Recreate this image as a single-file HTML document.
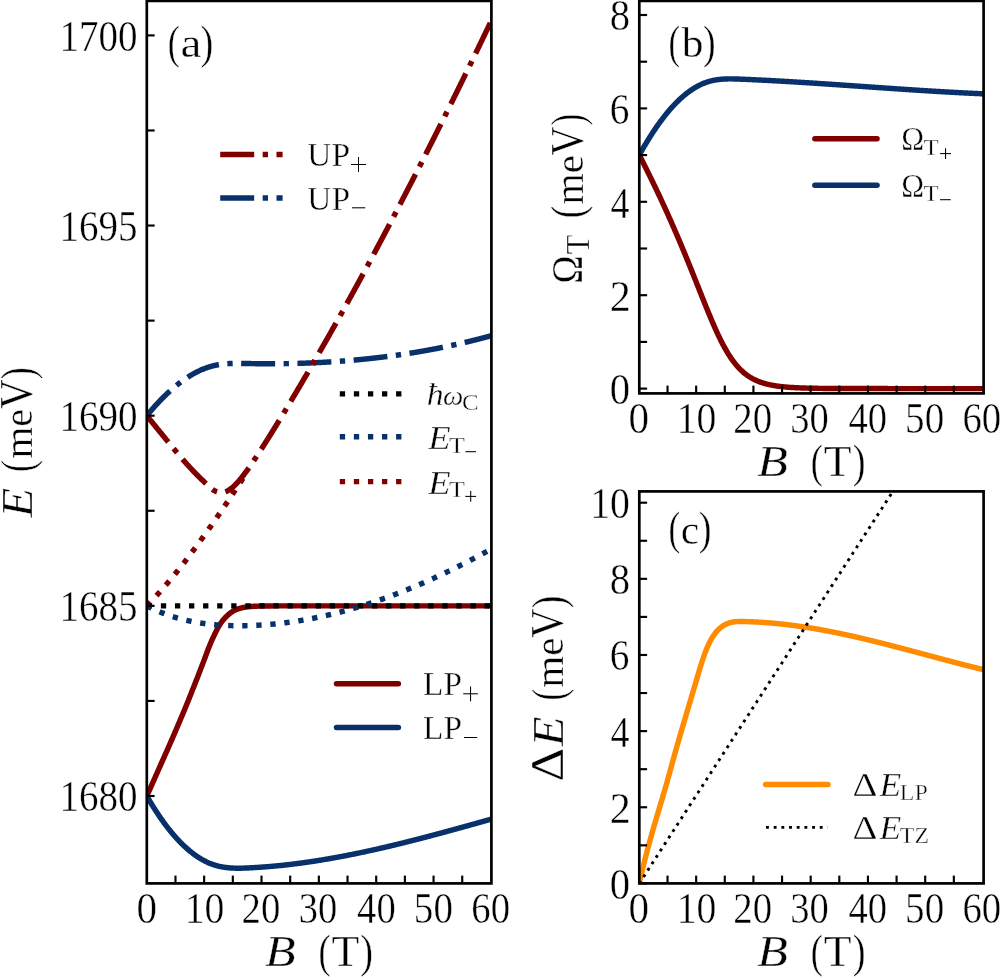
<!DOCTYPE html>
<html><head><meta charset="utf-8"><title>Figure</title>
<style>html,body{margin:0;padding:0;background:#fff;}svg{display:block;}text{font-family:"Liberation Serif",serif;fill:#000;}</style></head>
<body>
<svg width="1000" height="977" viewBox="0 0 1000 977">
<rect x="0" y="0" width="1000" height="977" fill="#fff"/>
<defs>
<clipPath id="ca"><rect x="146.80" y="0.90" width="344.60" height="882.50"/></clipPath>
<clipPath id="cb"><rect x="639.30" y="0.90" width="344.30" height="392.50"/></clipPath>
<clipPath id="cc"><rect x="639.30" y="491.40" width="344.30" height="392.00"/></clipPath>
</defs>
<g clip-path="url(#ca)">
<path d="M146.80 605.85 L147.37 605.27 L147.95 604.68 L148.52 604.09 L149.10 603.50 L149.67 602.91 L150.25 602.31 L150.82 601.71 L151.39 601.10 L151.97 600.50 L152.54 599.89 L153.12 599.28 L153.69 598.66 L154.27 598.05 L154.84 597.43 L155.41 596.81 L155.99 596.18 L156.56 595.55 L157.14 594.92 L157.71 594.29 L158.29 593.65 L158.86 593.02 L159.43 592.38 L160.01 591.73 L160.58 591.09 L161.16 590.44 L161.73 589.79 L162.31 589.13 L162.88 588.48 L163.45 587.82 L164.03 587.16 L164.60 586.49 L165.18 585.83 L165.75 585.16 L166.33 584.49 L166.90 583.82 L167.47 583.14 L168.05 582.46 L168.62 581.78 L169.20 581.10 L169.77 580.41 L170.35 579.73 L170.92 579.04 L171.49 578.34 L172.07 577.65 L172.64 576.95 L173.22 576.25 L173.79 575.55 L174.37 574.85 L174.94 574.14 L175.52 573.43 L176.09 572.72 L176.66 572.01 L177.24 571.30 L177.81 570.58 L178.39 569.86 L178.96 569.14 L179.54 568.41 L180.11 567.69 L180.68 566.96 L181.26 566.23 L181.83 565.50 L182.41 564.77 L182.98 564.03 L183.56 563.29 L184.13 562.55 L184.70 561.81 L185.28 561.07 L185.85 560.32 L186.43 559.57 L187.00 558.82 L187.58 558.07 L188.15 557.32 L188.72 556.56 L189.30 555.81 L189.87 555.05 L190.45 554.29 L191.02 553.52 L191.60 552.76 L192.17 551.99 L192.74 551.22 L193.32 550.45 L193.89 549.68 L194.47 548.91 L195.04 548.13 L195.62 547.35 L196.19 546.57 L196.76 545.79 L197.34 545.01 L197.91 544.23 L198.49 543.44 L199.06 542.65 L199.64 541.86 L200.21 541.07 L200.78 540.28 L201.36 539.49 L201.93 538.69 L202.51 537.89 L203.08 537.10 L203.66 536.30 L204.23 535.49 L204.80 534.69 L205.38 533.88 L205.95 533.08 L206.53 532.27 L207.10 531.46 L207.68 530.65 L208.25 529.84 L208.82 529.02 L209.40 528.21 L209.97 527.39 L210.55 526.57 L211.12 525.75 L211.70 524.93 L212.27 524.11 L212.84 523.28 L213.42 522.46 L213.99 521.63 L214.57 520.80 L215.14 519.97 L215.72 519.14 L216.29 518.31 L216.86 517.47 L217.44 516.64 L218.01 515.80 L218.59 514.96 L219.16 514.13 L219.74 513.29 L220.31 512.44 L220.88 511.60 L221.46 510.76 L222.03 509.91 L222.61 509.06 L223.18 508.21 L223.76 507.36 L224.33 506.51 L224.90 505.66 L225.48 504.81 L226.05 503.95 L226.63 503.10 L227.20 502.24 L227.78 501.38 L228.35 500.52 L228.92 499.66 L229.50 498.80 L230.07 497.94 L230.65 497.08 L231.22 496.21 L231.80 495.34 L232.37 494.48 L232.95 493.61 L233.52 492.74 L234.09 491.87 L234.67 491.00 L235.24 490.12 L235.82 489.25 L236.39 488.38 L236.97 487.50 L237.54 486.62 L238.11 485.74 L238.69 484.87 L239.26 483.99 L239.84 483.10 L240.41 482.22 L240.99 481.34 L241.56 480.46 L242.13 479.57 L242.71 478.69 L243.28 477.80 L243.86 476.91 L244.43 476.02" fill="none" stroke="#800000" stroke-width="5.45" stroke-linejoin="round" stroke-linecap="butt" stroke-dasharray="5.310 8.761"/>
<path d="M146.80 796.00 L147.37 794.72 L147.95 793.44 L148.52 792.16 L149.10 790.88 L149.67 789.60 L150.25 788.31 L150.82 787.02 L151.39 785.73 L151.97 784.44 L152.54 783.15 L153.12 781.85 L153.69 780.56 L154.27 779.27 L154.84 777.97 L155.41 776.68 L155.99 775.38 L156.56 774.08 L157.14 772.79 L157.71 771.49 L158.29 770.20 L158.86 768.90 L159.43 767.61 L160.01 766.32 L160.58 765.03 L161.16 763.73 L161.73 762.44 L162.31 761.16 L162.88 759.87 L163.45 758.58 L164.03 757.30 L164.60 756.01 L165.18 754.72 L165.75 753.43 L166.33 752.14 L166.90 750.84 L167.47 749.54 L168.05 748.24 L168.62 746.93 L169.20 745.62 L169.77 744.31 L170.35 743.00 L170.92 741.68 L171.49 740.36 L172.07 739.04 L172.64 737.72 L173.22 736.39 L173.79 735.06 L174.37 733.73 L174.94 732.39 L175.52 731.05 L176.09 729.71 L176.66 728.37 L177.24 727.03 L177.81 725.68 L178.39 724.33 L178.96 722.98 L179.54 721.62 L180.11 720.27 L180.68 718.91 L181.26 717.55 L181.83 716.19 L182.41 714.82 L182.98 713.46 L183.56 712.09 L184.13 710.72 L184.70 709.35 L185.28 707.97 L185.85 706.58 L186.43 705.17 L187.00 703.76 L187.58 702.34 L188.15 700.91 L188.72 699.48 L189.30 698.04 L189.87 696.60 L190.45 695.15 L191.02 693.70 L191.60 692.25 L192.17 690.80 L192.74 689.36 L193.32 687.91 L193.89 686.46 L194.47 685.00 L195.04 683.54 L195.62 682.08 L196.19 680.61 L196.76 679.14 L197.34 677.66 L197.91 676.18 L198.49 674.70 L199.06 673.22 L199.64 671.74 L200.21 670.26 L200.78 668.78 L201.36 667.30 L201.93 665.82 L202.51 664.35 L203.08 662.87 L203.66 661.36 L204.23 659.83 L204.80 658.28 L205.38 656.72 L205.95 655.17 L206.53 653.61 L207.10 652.07 L207.68 650.55 L208.25 649.05 L208.82 647.59 L209.40 646.15 L209.97 644.75 L210.55 643.38 L211.12 642.03 L211.70 640.70 L212.27 639.40 L212.84 638.12 L213.42 636.87 L213.99 635.64 L214.57 634.44 L215.14 633.26 L215.72 632.11 L216.29 630.97 L216.86 629.86 L217.44 628.77 L218.01 627.71 L218.59 626.69 L219.16 625.71 L219.74 624.77 L220.31 623.88 L220.88 623.03 L221.46 622.22 L222.03 621.45 L222.61 620.70 L223.18 619.99 L223.76 619.30 L224.33 618.64 L224.90 618.00 L225.48 617.39 L226.05 616.79 L226.63 616.22 L227.20 615.67 L227.78 615.13 L228.35 614.62 L228.92 614.13 L229.50 613.66 L230.07 613.21 L230.65 612.79 L231.22 612.38 L231.80 611.99 L232.37 611.63 L232.95 611.28 L233.52 610.95 L234.09 610.65 L234.67 610.35 L235.24 610.08 L235.82 609.81 L236.39 609.57 L236.97 609.33 L237.54 609.11 L238.11 608.90 L238.69 608.71 L239.26 608.53 L239.84 608.35 L240.41 608.19 L240.99 608.04 L241.56 607.90 L242.13 607.77 L242.71 607.64 L243.28 607.53 L243.86 607.42 L244.43 607.32 L245.01 607.22 L245.58 607.13 L246.15 607.05 L246.73 606.97 L247.30 606.89 L247.88 606.82 L248.45 606.76 L249.03 606.70 L249.60 606.64 L250.17 606.59 L250.75 606.54 L251.32 606.49 L251.90 606.45 L252.47 606.41 L253.05 606.37 L253.62 606.34 L254.19 606.30 L254.77 606.27 L255.34 606.24 L255.92 606.22 L256.49 606.19 L257.07 606.17 L257.64 606.15 L258.21 606.13 L258.79 606.11 L259.36 606.09 L259.94 606.08 L260.51 606.06 L261.09 606.05 L261.66 606.03 L262.23 606.02 L262.81 606.01 L263.38 606.00 L263.96 605.99 L264.53 605.98 L265.11 605.97 L265.68 605.96 L266.25 605.96 L266.83 605.95 L267.40 605.94 L267.98 605.94 L268.55 605.93 L269.13 605.93 L269.70 605.92 L270.27 605.92 L270.85 605.91 L271.42 605.91 L272.00 605.90 L272.57 605.90 L273.15 605.90 L273.72 605.89 L274.29 605.89 L274.87 605.89 L275.44 605.89 L276.02 605.88 L276.59 605.88 L277.17 605.88 L277.74 605.88 L278.31 605.87 L278.89 605.87 L279.46 605.87 L280.04 605.87 L280.61 605.87 L281.19 605.87 L281.76 605.87 L282.33 605.87 L282.91 605.86 L283.48 605.86 L284.06 605.86 L284.63 605.86 L285.21 605.86 L285.78 605.86 L286.35 605.86 L286.93 605.86 L287.50 605.86 L288.08 605.86 L288.65 605.86 L289.23 605.86 L289.80 605.86 L290.38 605.86 L290.95 605.86 L291.52 605.86 L292.10 605.85 L292.67 605.85 L293.25 605.85 L293.82 605.85 L294.40 605.85 L294.97 605.85 L295.54 605.85 L296.12 605.85 L296.69 605.85 L297.27 605.85 L297.84 605.85 L298.42 605.85 L298.99 605.85 L299.56 605.85 L300.14 605.85 L300.71 605.85 L301.29 605.85 L301.86 605.85 L302.44 605.85 L303.01 605.85 L303.58 605.85 L304.16 605.85 L304.73 605.85 L305.31 605.85 L305.88 605.85 L306.46 605.85 L307.03 605.85 L307.60 605.85 L308.18 605.85 L308.75 605.85 L309.33 605.85 L309.90 605.85 L310.48 605.85 L311.05 605.85 L311.62 605.85 L312.20 605.85 L312.77 605.85 L313.35 605.85 L313.92 605.85 L314.50 605.85 L315.07 605.85 L315.64 605.85 L316.22 605.85 L316.79 605.85 L317.37 605.85 L317.94 605.85 L318.52 605.85 L319.09 605.85 L319.66 605.85 L320.24 605.85 L320.81 605.85 L321.39 605.85 L321.96 605.85 L322.54 605.85 L323.11 605.85 L323.68 605.85 L324.26 605.85 L324.83 605.85 L325.41 605.85 L325.98 605.85 L326.56 605.85 L327.13 605.85 L327.70 605.85 L328.28 605.85 L328.85 605.85 L329.43 605.85 L330.00 605.85 L330.58 605.85 L331.15 605.85 L331.72 605.85 L332.30 605.85 L332.87 605.85 L333.45 605.85 L334.02 605.85 L334.60 605.85 L335.17 605.85 L335.74 605.85 L336.32 605.85 L336.89 605.85 L337.47 605.85 L338.04 605.85 L338.62 605.85 L339.19 605.85 L339.76 605.85 L340.34 605.85 L340.91 605.85 L341.49 605.85 L342.06 605.85 L342.64 605.85 L343.21 605.85 L343.78 605.85 L344.36 605.85 L344.93 605.85 L345.51 605.85 L346.08 605.85 L346.66 605.85 L347.23 605.85 L347.81 605.85 L348.38 605.85 L348.95 605.85 L349.53 605.85 L350.10 605.85 L350.68 605.85 L351.25 605.85 L351.83 605.85 L352.40 605.85 L352.97 605.85 L353.55 605.85 L354.12 605.85 L354.70 605.85 L355.27 605.85 L355.85 605.85 L356.42 605.85 L356.99 605.85 L357.57 605.85 L358.14 605.85 L358.72 605.85 L359.29 605.85 L359.87 605.85 L360.44 605.85 L361.01 605.85 L361.59 605.85 L362.16 605.85 L362.74 605.85 L363.31 605.85 L363.89 605.85 L364.46 605.85 L365.03 605.85 L365.61 605.85 L366.18 605.85 L366.76 605.85 L367.33 605.85 L367.91 605.85 L368.48 605.85 L369.05 605.85 L369.63 605.85 L370.20 605.85 L370.78 605.85 L371.35 605.85 L371.93 605.85 L372.50 605.85 L373.07 605.85 L373.65 605.85 L374.22 605.85 L374.80 605.85 L375.37 605.85 L375.95 605.85 L376.52 605.85 L377.09 605.85 L377.67 605.85 L378.24 605.85 L378.82 605.85 L379.39 605.85 L379.97 605.85 L380.54 605.85 L381.11 605.85 L381.69 605.85 L382.26 605.85 L382.84 605.85 L383.41 605.85 L383.99 605.85 L384.56 605.85 L385.13 605.85 L385.71 605.85 L386.28 605.85 L386.86 605.85 L387.43 605.85 L388.01 605.85 L388.58 605.85 L389.15 605.85 L389.73 605.85 L390.30 605.85 L390.88 605.85 L391.45 605.85 L392.03 605.85 L392.60 605.85 L393.17 605.85 L393.75 605.85 L394.32 605.85 L394.90 605.85 L395.47 605.85 L396.05 605.85 L396.62 605.85 L397.19 605.85 L397.77 605.85 L398.34 605.85 L398.92 605.85 L399.49 605.85 L400.07 605.85 L400.64 605.85 L401.21 605.85 L401.79 605.85 L402.36 605.85 L402.94 605.85 L403.51 605.85 L404.09 605.85 L404.66 605.85 L405.24 605.85 L405.81 605.85 L406.38 605.85 L406.96 605.85 L407.53 605.85 L408.11 605.85 L408.68 605.85 L409.26 605.85 L409.83 605.85 L410.40 605.85 L410.98 605.85 L411.55 605.85 L412.13 605.85 L412.70 605.85 L413.28 605.85 L413.85 605.85 L414.42 605.85 L415.00 605.85 L415.57 605.85 L416.15 605.85 L416.72 605.85 L417.30 605.85 L417.87 605.85 L418.44 605.85 L419.02 605.85 L419.59 605.85 L420.17 605.85 L420.74 605.85 L421.32 605.85 L421.89 605.85 L422.46 605.85 L423.04 605.85 L423.61 605.85 L424.19 605.85 L424.76 605.85 L425.34 605.85 L425.91 605.85 L426.48 605.85 L427.06 605.85 L427.63 605.85 L428.21 605.85 L428.78 605.85 L429.36 605.85 L429.93 605.85 L430.50 605.85 L431.08 605.85 L431.65 605.85 L432.23 605.85 L432.80 605.85 L433.38 605.85 L433.95 605.85 L434.52 605.85 L435.10 605.85 L435.67 605.85 L436.25 605.85 L436.82 605.85 L437.40 605.85 L437.97 605.85 L438.54 605.85 L439.12 605.85 L439.69 605.85 L440.27 605.85 L440.84 605.85 L441.42 605.85 L441.99 605.85 L442.56 605.85 L443.14 605.85 L443.71 605.85 L444.29 605.85 L444.86 605.85 L445.44 605.85 L446.01 605.85 L446.58 605.85 L447.16 605.85 L447.73 605.85 L448.31 605.85 L448.88 605.85 L449.46 605.85 L450.03 605.85 L450.60 605.85 L451.18 605.85 L451.75 605.85 L452.33 605.85 L452.90 605.85 L453.48 605.85 L454.05 605.85 L454.62 605.85 L455.20 605.85 L455.77 605.85 L456.35 605.85 L456.92 605.85 L457.50 605.85 L458.07 605.85 L458.64 605.85 L459.22 605.85 L459.79 605.85 L460.37 605.85 L460.94 605.85 L461.52 605.85 L462.09 605.85 L462.67 605.85 L463.24 605.85 L463.81 605.85 L464.39 605.85 L464.96 605.85 L465.54 605.85 L466.11 605.85 L466.69 605.85 L467.26 605.85 L467.83 605.85 L468.41 605.85 L468.98 605.85 L469.56 605.85 L470.13 605.85 L470.71 605.85 L471.28 605.85 L471.85 605.85 L472.43 605.85 L473.00 605.85 L473.58 605.85 L474.15 605.85 L474.73 605.85 L475.30 605.85 L475.87 605.85 L476.45 605.85 L477.02 605.85 L477.60 605.85 L478.17 605.85 L478.75 605.85 L479.32 605.85 L479.89 605.85 L480.47 605.85 L481.04 605.85 L481.62 605.85 L482.19 605.85 L482.77 605.85 L483.34 605.85 L483.91 605.85 L484.49 605.85 L485.06 605.85 L485.64 605.85 L486.21 605.85 L486.79 605.85 L487.36 605.85 L487.93 605.85 L488.51 605.85 L489.08 605.85 L489.66 605.85 L490.23 605.85 L490.81 605.85 L491.38 605.85" fill="none" stroke="#800000" stroke-width="5.45" stroke-linejoin="round" stroke-linecap="round"/>
<path d="M146.80 796.00 L147.37 797.00 L147.95 797.99 L148.52 798.97 L149.10 799.94 L149.67 800.91 L150.25 801.87 L150.82 802.83 L151.39 803.77 L151.97 804.71 L152.54 805.64 L153.12 806.57 L153.69 807.49 L154.27 808.40 L154.84 809.30 L155.41 810.20 L155.99 811.09 L156.56 811.97 L157.14 812.84 L157.71 813.71 L158.29 814.57 L158.86 815.43 L159.43 816.27 L160.01 817.11 L160.58 817.95 L161.16 818.77 L161.73 819.59 L162.31 820.40 L162.88 821.20 L163.45 822.00 L164.03 822.79 L164.60 823.57 L165.18 824.35 L165.75 825.12 L166.33 825.88 L166.90 826.63 L167.47 827.38 L168.05 828.12 L168.62 828.86 L169.20 829.58 L169.77 830.30 L170.35 831.01 L170.92 831.72 L171.49 832.42 L172.07 833.11 L172.64 833.79 L173.22 834.47 L173.79 835.14 L174.37 835.80 L174.94 836.46 L175.52 837.11 L176.09 837.75 L176.66 838.38 L177.24 839.01 L177.81 839.63 L178.39 840.24 L178.96 840.85 L179.54 841.45 L180.11 842.04 L180.68 842.63 L181.26 843.21 L181.83 843.78 L182.41 844.35 L182.98 844.90 L183.56 845.45 L184.13 846.00 L184.70 846.54 L185.28 847.07 L185.85 847.59 L186.43 848.11 L187.00 848.62 L187.58 849.12 L188.15 849.61 L188.72 850.10 L189.30 850.59 L189.87 851.06 L190.45 851.53 L191.02 851.99 L191.60 852.44 L192.17 852.89 L192.74 853.33 L193.32 853.77 L193.89 854.19 L194.47 854.61 L195.04 855.03 L195.62 855.43 L196.19 855.83 L196.76 856.23 L197.34 856.61 L197.91 856.99 L198.49 857.36 L199.06 857.73 L199.64 858.09 L200.21 858.44 L200.78 858.79 L201.36 859.12 L201.93 859.46 L202.51 859.78 L203.08 860.10 L203.66 860.41 L204.23 860.71 L204.80 861.01 L205.38 861.30 L205.95 861.59 L206.53 861.87 L207.10 862.14 L207.68 862.40 L208.25 862.66 L208.82 862.91 L209.40 863.15 L209.97 863.39 L210.55 863.62 L211.12 863.84 L211.70 864.06 L212.27 864.27 L212.84 864.47 L213.42 864.67 L213.99 864.86 L214.57 865.04 L215.14 865.22 L215.72 865.39 L216.29 865.56 L216.86 865.72 L217.44 865.87 L218.01 866.02 L218.59 866.16 L219.16 866.29 L219.74 866.42 L220.31 866.55 L220.88 866.67 L221.46 866.78 L222.03 866.89 L222.61 866.99 L223.18 867.09 L223.76 867.18 L224.33 867.27 L224.90 867.36 L225.48 867.44 L226.05 867.51 L226.63 867.58 L227.20 867.65 L227.78 867.71 L228.35 867.77 L228.92 867.82 L229.50 867.87 L230.07 867.91 L230.65 867.96 L231.22 867.99 L231.80 868.03 L232.37 868.06 L232.95 868.09 L233.52 868.11 L234.09 868.13 L234.67 868.15 L235.24 868.17 L235.82 868.18 L236.39 868.19 L236.97 868.20 L237.54 868.20 L238.11 868.20 L238.69 868.20 L239.26 868.20 L239.84 868.19 L240.41 868.19 L240.99 868.18 L241.56 868.17 L242.13 868.15 L242.71 868.14 L243.28 868.12 L243.86 868.10 L244.43 868.08 L245.01 868.06 L245.58 868.04 L246.15 868.02 L246.73 867.99 L247.30 867.97 L247.88 867.94 L248.45 867.92 L249.03 867.89 L249.60 867.86 L250.17 867.83 L250.75 867.80 L251.32 867.77 L251.90 867.74 L252.47 867.71 L253.05 867.68 L253.62 867.65 L254.19 867.61 L254.77 867.58 L255.34 867.55 L255.92 867.51 L256.49 867.48 L257.07 867.44 L257.64 867.40 L258.21 867.37 L258.79 867.33 L259.36 867.29 L259.94 867.25 L260.51 867.21 L261.09 867.17 L261.66 867.13 L262.23 867.09 L262.81 867.05 L263.38 867.01 L263.96 866.96 L264.53 866.92 L265.11 866.88 L265.68 866.83 L266.25 866.79 L266.83 866.74 L267.40 866.69 L267.98 866.65 L268.55 866.60 L269.13 866.55 L269.70 866.50 L270.27 866.46 L270.85 866.41 L271.42 866.36 L272.00 866.31 L272.57 866.25 L273.15 866.20 L273.72 866.15 L274.29 866.10 L274.87 866.04 L275.44 865.99 L276.02 865.93 L276.59 865.88 L277.17 865.82 L277.74 865.77 L278.31 865.71 L278.89 865.65 L279.46 865.60 L280.04 865.54 L280.61 865.48 L281.19 865.42 L281.76 865.36 L282.33 865.30 L282.91 865.24 L283.48 865.18 L284.06 865.11 L284.63 865.05 L285.21 864.99 L285.78 864.93 L286.35 864.86 L286.93 864.80 L287.50 864.73 L288.08 864.67 L288.65 864.60 L289.23 864.53 L289.80 864.47 L290.38 864.40 L290.95 864.33 L291.52 864.26 L292.10 864.19 L292.67 864.12 L293.25 864.05 L293.82 863.98 L294.40 863.91 L294.97 863.84 L295.54 863.76 L296.12 863.69 L296.69 863.62 L297.27 863.54 L297.84 863.47 L298.42 863.39 L298.99 863.32 L299.56 863.24 L300.14 863.17 L300.71 863.09 L301.29 863.01 L301.86 862.94 L302.44 862.86 L303.01 862.78 L303.58 862.70 L304.16 862.62 L304.73 862.54 L305.31 862.46 L305.88 862.38 L306.46 862.30 L307.03 862.21 L307.60 862.13 L308.18 862.05 L308.75 861.96 L309.33 861.88 L309.90 861.80 L310.48 861.71 L311.05 861.63 L311.62 861.54 L312.20 861.45 L312.77 861.37 L313.35 861.28 L313.92 861.19 L314.50 861.10 L315.07 861.01 L315.64 860.93 L316.22 860.84 L316.79 860.75 L317.37 860.66 L317.94 860.56 L318.52 860.47 L319.09 860.38 L319.66 860.29 L320.24 860.20 L320.81 860.10 L321.39 860.01 L321.96 859.92 L322.54 859.82 L323.11 859.73 L323.68 859.63 L324.26 859.54 L324.83 859.44 L325.41 859.34 L325.98 859.25 L326.56 859.15 L327.13 859.05 L327.70 858.95 L328.28 858.85 L328.85 858.75 L329.43 858.65 L330.00 858.55 L330.58 858.45 L331.15 858.35 L331.72 858.25 L332.30 858.15 L332.87 858.05 L333.45 857.94 L334.02 857.84 L334.60 857.74 L335.17 857.63 L335.74 857.53 L336.32 857.43 L336.89 857.32 L337.47 857.22 L338.04 857.11 L338.62 857.00 L339.19 856.90 L339.76 856.79 L340.34 856.68 L340.91 856.57 L341.49 856.47 L342.06 856.36 L342.64 856.25 L343.21 856.14 L343.78 856.03 L344.36 855.92 L344.93 855.81 L345.51 855.70 L346.08 855.59 L346.66 855.48 L347.23 855.36 L347.81 855.25 L348.38 855.14 L348.95 855.03 L349.53 854.91 L350.10 854.80 L350.68 854.68 L351.25 854.57 L351.83 854.45 L352.40 854.34 L352.97 854.22 L353.55 854.11 L354.12 853.99 L354.70 853.87 L355.27 853.76 L355.85 853.64 L356.42 853.52 L356.99 853.40 L357.57 853.28 L358.14 853.17 L358.72 853.05 L359.29 852.93 L359.87 852.81 L360.44 852.69 L361.01 852.56 L361.59 852.44 L362.16 852.32 L362.74 852.20 L363.31 852.08 L363.89 851.96 L364.46 851.83 L365.03 851.71 L365.61 851.59 L366.18 851.46 L366.76 851.34 L367.33 851.21 L367.91 851.09 L368.48 850.96 L369.05 850.84 L369.63 850.71 L370.20 850.59 L370.78 850.46 L371.35 850.33 L371.93 850.21 L372.50 850.08 L373.07 849.95 L373.65 849.82 L374.22 849.70 L374.80 849.57 L375.37 849.44 L375.95 849.31 L376.52 849.18 L377.09 849.05 L377.67 848.92 L378.24 848.79 L378.82 848.66 L379.39 848.53 L379.97 848.40 L380.54 848.26 L381.11 848.13 L381.69 848.00 L382.26 847.87 L382.84 847.74 L383.41 847.60 L383.99 847.47 L384.56 847.34 L385.13 847.20 L385.71 847.07 L386.28 846.93 L386.86 846.80 L387.43 846.66 L388.01 846.53 L388.58 846.39 L389.15 846.26 L389.73 846.12 L390.30 845.98 L390.88 845.85 L391.45 845.71 L392.03 845.57 L392.60 845.43 L393.17 845.30 L393.75 845.16 L394.32 845.02 L394.90 844.88 L395.47 844.74 L396.05 844.60 L396.62 844.46 L397.19 844.33 L397.77 844.19 L398.34 844.05 L398.92 843.90 L399.49 843.76 L400.07 843.62 L400.64 843.48 L401.21 843.34 L401.79 843.20 L402.36 843.06 L402.94 842.92 L403.51 842.77 L404.09 842.63 L404.66 842.49 L405.24 842.34 L405.81 842.20 L406.38 842.06 L406.96 841.91 L407.53 841.77 L408.11 841.63 L408.68 841.48 L409.26 841.34 L409.83 841.19 L410.40 841.05 L410.98 840.90 L411.55 840.76 L412.13 840.61 L412.70 840.47 L413.28 840.32 L413.85 840.17 L414.42 840.03 L415.00 839.88 L415.57 839.73 L416.15 839.59 L416.72 839.44 L417.30 839.29 L417.87 839.14 L418.44 838.99 L419.02 838.85 L419.59 838.70 L420.17 838.55 L420.74 838.40 L421.32 838.25 L421.89 838.10 L422.46 837.95 L423.04 837.80 L423.61 837.65 L424.19 837.50 L424.76 837.35 L425.34 837.20 L425.91 837.05 L426.48 836.90 L427.06 836.75 L427.63 836.60 L428.21 836.45 L428.78 836.30 L429.36 836.15 L429.93 836.00 L430.50 835.84 L431.08 835.69 L431.65 835.54 L432.23 835.39 L432.80 835.23 L433.38 835.08 L433.95 834.93 L434.52 834.78 L435.10 834.62 L435.67 834.47 L436.25 834.32 L436.82 834.16 L437.40 834.01 L437.97 833.86 L438.54 833.70 L439.12 833.55 L439.69 833.39 L440.27 833.24 L440.84 833.08 L441.42 832.93 L441.99 832.77 L442.56 832.62 L443.14 832.46 L443.71 832.31 L444.29 832.15 L444.86 832.00 L445.44 831.84 L446.01 831.69 L446.58 831.53 L447.16 831.37 L447.73 831.22 L448.31 831.06 L448.88 830.91 L449.46 830.75 L450.03 830.59 L450.60 830.44 L451.18 830.28 L451.75 830.12 L452.33 829.97 L452.90 829.81 L453.48 829.65 L454.05 829.49 L454.62 829.34 L455.20 829.18 L455.77 829.02 L456.35 828.86 L456.92 828.70 L457.50 828.55 L458.07 828.39 L458.64 828.23 L459.22 828.07 L459.79 827.91 L460.37 827.76 L460.94 827.60 L461.52 827.44 L462.09 827.28 L462.67 827.12 L463.24 826.96 L463.81 826.80 L464.39 826.64 L464.96 826.48 L465.54 826.33 L466.11 826.17 L466.69 826.01 L467.26 825.85 L467.83 825.69 L468.41 825.53 L468.98 825.37 L469.56 825.21 L470.13 825.05 L470.71 824.89 L471.28 824.73 L471.85 824.57 L472.43 824.41 L473.00 824.25 L473.58 824.09 L474.15 823.93 L474.73 823.77 L475.30 823.61 L475.87 823.45 L476.45 823.29 L477.02 823.13 L477.60 822.97 L478.17 822.81 L478.75 822.65 L479.32 822.49 L479.89 822.33 L480.47 822.16 L481.04 822.00 L481.62 821.84 L482.19 821.68 L482.77 821.52 L483.34 821.36 L483.91 821.20 L484.49 821.04 L485.06 820.88 L485.64 820.72 L486.21 820.56 L486.79 820.40 L487.36 820.23 L487.93 820.07 L488.51 819.91 L489.08 819.75 L489.66 819.59 L490.23 819.43 L490.81 819.27 L491.38 819.11" fill="none" stroke="#08306b" stroke-width="5.45" stroke-linejoin="round" stroke-linecap="round"/>
<path d="M146.80 415.70 L147.37 415.00 L147.95 414.31 L148.52 413.62 L149.10 412.93 L149.67 412.25 L150.25 411.57 L150.82 410.89 L151.39 410.23 L151.97 409.56 L152.54 408.90 L153.12 408.24 L153.69 407.59 L154.27 406.95 L154.84 406.30 L155.41 405.66 L155.99 405.03 L156.56 404.40 L157.14 403.78 L157.71 403.16 L158.29 402.54 L158.86 401.93 L159.43 401.32 L160.01 400.72 L160.58 400.12 L161.16 399.53 L161.73 398.94 L162.31 398.35 L162.88 397.77 L163.45 397.20 L164.03 396.63 L164.60 396.06 L165.18 395.50 L165.75 394.94 L166.33 394.39 L166.90 393.84 L167.47 393.30 L168.05 392.76 L168.62 392.23 L169.20 391.70 L169.77 391.18 L170.35 390.66 L170.92 390.14 L171.49 389.63 L172.07 389.13 L172.64 388.63 L173.22 388.13 L173.79 387.64 L174.37 387.16 L174.94 386.67 L175.52 386.20 L176.09 385.73 L176.66 385.26 L177.24 384.80 L177.81 384.34 L178.39 383.89 L178.96 383.44 L179.54 383.00 L180.11 382.56 L180.68 382.13 L181.26 381.70 L181.83 381.27 L182.41 380.86 L182.98 380.44 L183.56 380.03 L184.13 379.63 L184.70 379.23 L185.28 378.84 L185.85 378.45 L186.43 378.06 L187.00 377.69 L187.58 377.31 L188.15 376.94 L188.72 376.58 L189.30 376.22 L189.87 375.87 L190.45 375.52 L191.02 375.17 L191.60 374.83 L192.17 374.50 L192.74 374.17 L193.32 373.85 L193.89 373.53 L194.47 373.22 L195.04 372.91 L195.62 372.60 L196.19 372.30 L196.76 372.01 L197.34 371.72 L197.91 371.44 L198.49 371.16 L199.06 370.89 L199.64 370.62 L200.21 370.36 L200.78 370.10 L201.36 369.85 L201.93 369.60 L202.51 369.36 L203.08 369.13 L203.66 368.89 L204.23 368.67 L204.80 368.45 L205.38 368.23 L205.95 368.02 L206.53 367.82 L207.10 367.62 L207.68 367.42 L208.25 367.23 L208.82 367.05 L209.40 366.87 L209.97 366.69 L210.55 366.53 L211.12 366.36 L211.70 366.20 L212.27 366.05 L212.84 365.90 L213.42 365.76 L213.99 365.63 L214.57 365.49 L215.14 365.37 L215.72 365.25 L216.29 365.13 L216.86 365.02 L217.44 364.91 L218.01 364.80 L218.59 364.71 L219.16 364.61 L219.74 364.52 L220.31 364.44 L220.88 364.35 L221.46 364.28 L222.03 364.20 L222.61 364.13 L223.18 364.07 L223.76 364.00 L224.33 363.94 L224.90 363.89 L225.48 363.84 L226.05 363.79 L226.63 363.74 L227.20 363.70 L227.78 363.66 L228.35 363.62 L228.92 363.59 L229.50 363.56 L230.07 363.53 L230.65 363.51 L231.22 363.48 L231.80 363.46 L232.37 363.45 L232.95 363.43 L233.52 363.42 L234.09 363.41 L234.67 363.40 L235.24 363.39 L235.82 363.38 L236.39 363.38 L236.97 363.38 L237.54 363.38 L238.11 363.38 L238.69 363.38 L239.26 363.38 L239.84 363.39 L240.41 363.39 L240.99 363.40 L241.56 363.41 L242.13 363.41 L242.71 363.42 L243.28 363.43 L243.86 363.44 L244.43 363.46 L245.01 363.47 L245.58 363.48 L246.15 363.49 L246.73 363.50 L247.30 363.52 L247.88 363.53 L248.45 363.54 L249.03 363.55 L249.60 363.56 L250.17 363.57 L250.75 363.58 L251.32 363.60 L251.90 363.61 L252.47 363.62 L253.05 363.62 L253.62 363.63 L254.19 363.64 L254.77 363.65 L255.34 363.66 L255.92 363.67 L256.49 363.68 L257.07 363.68 L257.64 363.69 L258.21 363.70 L258.79 363.70 L259.36 363.71 L259.94 363.71 L260.51 363.72 L261.09 363.73 L261.66 363.73 L262.23 363.73 L262.81 363.74 L263.38 363.74 L263.96 363.75 L264.53 363.75 L265.11 363.75 L265.68 363.75 L266.25 363.76 L266.83 363.76 L267.40 363.76 L267.98 363.76 L268.55 363.76 L269.13 363.76 L269.70 363.76 L270.27 363.76 L270.85 363.76 L271.42 363.76 L272.00 363.76 L272.57 363.76 L273.15 363.76 L273.72 363.75 L274.29 363.75 L274.87 363.75 L275.44 363.75 L276.02 363.74 L276.59 363.74 L277.17 363.74 L277.74 363.73 L278.31 363.73 L278.89 363.72 L279.46 363.72 L280.04 363.71 L280.61 363.70 L281.19 363.70 L281.76 363.69 L282.33 363.68 L282.91 363.68 L283.48 363.67 L284.06 363.66 L284.63 363.65 L285.21 363.64 L285.78 363.63 L286.35 363.63 L286.93 363.62 L287.50 363.61 L288.08 363.60 L288.65 363.58 L289.23 363.57 L289.80 363.56 L290.38 363.55 L290.95 363.54 L291.52 363.53 L292.10 363.51 L292.67 363.50 L293.25 363.49 L293.82 363.47 L294.40 363.46 L294.97 363.44 L295.54 363.43 L296.12 363.41 L296.69 363.40 L297.27 363.38 L297.84 363.37 L298.42 363.35 L298.99 363.33 L299.56 363.32 L300.14 363.30 L300.71 363.28 L301.29 363.26 L301.86 363.25 L302.44 363.23 L303.01 363.21 L303.58 363.19 L304.16 363.17 L304.73 363.15 L305.31 363.13 L305.88 363.11 L306.46 363.09 L307.03 363.06 L307.60 363.04 L308.18 363.02 L308.75 363.00 L309.33 362.97 L309.90 362.95 L310.48 362.93 L311.05 362.90 L311.62 362.88 L312.20 362.85 L312.77 362.83 L313.35 362.80 L313.92 362.78 L314.50 362.75 L315.07 362.73 L315.64 362.70 L316.22 362.67 L316.79 362.64 L317.37 362.62 L317.94 362.59 L318.52 362.56 L319.09 362.53 L319.66 362.50 L320.24 362.47 L320.81 362.44 L321.39 362.41 L321.96 362.38 L322.54 362.35 L323.11 362.32 L323.68 362.29 L324.26 362.26 L324.83 362.22 L325.41 362.19 L325.98 362.16 L326.56 362.12 L327.13 362.09 L327.70 362.06 L328.28 362.02 L328.85 361.99 L329.43 361.95 L330.00 361.92 L330.58 361.88 L331.15 361.84 L331.72 361.81 L332.30 361.77 L332.87 361.73 L333.45 361.70 L334.02 361.66 L334.60 361.62 L335.17 361.58 L335.74 361.54 L336.32 361.50 L336.89 361.46 L337.47 361.42 L338.04 361.38 L338.62 361.34 L339.19 361.30 L339.76 361.26 L340.34 361.21 L340.91 361.17 L341.49 361.13 L342.06 361.09 L342.64 361.04 L343.21 361.00 L343.78 360.95 L344.36 360.91 L344.93 360.86 L345.51 360.82 L346.08 360.77 L346.66 360.73 L347.23 360.68 L347.81 360.63 L348.38 360.59 L348.95 360.54 L349.53 360.49 L350.10 360.44 L350.68 360.39 L351.25 360.34 L351.83 360.29 L352.40 360.24 L352.97 360.19 L353.55 360.14 L354.12 360.09 L354.70 360.04 L355.27 359.99 L355.85 359.94 L356.42 359.88 L356.99 359.83 L357.57 359.78 L358.14 359.72 L358.72 359.67 L359.29 359.61 L359.87 359.56 L360.44 359.50 L361.01 359.45 L361.59 359.39 L362.16 359.34 L362.74 359.28 L363.31 359.22 L363.89 359.16 L364.46 359.11 L365.03 359.05 L365.61 358.99 L366.18 358.93 L366.76 358.87 L367.33 358.81 L367.91 358.75 L368.48 358.69 L369.05 358.63 L369.63 358.57 L370.20 358.50 L370.78 358.44 L371.35 358.38 L371.93 358.32 L372.50 358.25 L373.07 358.19 L373.65 358.13 L374.22 358.06 L374.80 358.00 L375.37 357.93 L375.95 357.86 L376.52 357.80 L377.09 357.73 L377.67 357.66 L378.24 357.60 L378.82 357.53 L379.39 357.46 L379.97 357.39 L380.54 357.32 L381.11 357.25 L381.69 357.18 L382.26 357.11 L382.84 357.04 L383.41 356.97 L383.99 356.90 L384.56 356.83 L385.13 356.75 L385.71 356.68 L386.28 356.61 L386.86 356.53 L387.43 356.46 L388.01 356.39 L388.58 356.31 L389.15 356.24 L389.73 356.16 L390.30 356.08 L390.88 356.01 L391.45 355.93 L392.03 355.85 L392.60 355.78 L393.17 355.70 L393.75 355.62 L394.32 355.54 L394.90 355.46 L395.47 355.38 L396.05 355.30 L396.62 355.22 L397.19 355.14 L397.77 355.06 L398.34 354.97 L398.92 354.89 L399.49 354.81 L400.07 354.73 L400.64 354.64 L401.21 354.56 L401.79 354.47 L402.36 354.39 L402.94 354.30 L403.51 354.22 L404.09 354.13 L404.66 354.04 L405.24 353.96 L405.81 353.87 L406.38 353.78 L406.96 353.69 L407.53 353.60 L408.11 353.51 L408.68 353.43 L409.26 353.33 L409.83 353.24 L410.40 353.15 L410.98 353.06 L411.55 352.97 L412.13 352.88 L412.70 352.78 L413.28 352.69 L413.85 352.60 L414.42 352.50 L415.00 352.41 L415.57 352.31 L416.15 352.22 L416.72 352.12 L417.30 352.03 L417.87 351.93 L418.44 351.83 L419.02 351.73 L419.59 351.64 L420.17 351.54 L420.74 351.44 L421.32 351.34 L421.89 351.24 L422.46 351.14 L423.04 351.04 L423.61 350.94 L424.19 350.84 L424.76 350.73 L425.34 350.63 L425.91 350.53 L426.48 350.42 L427.06 350.32 L427.63 350.22 L428.21 350.11 L428.78 350.01 L429.36 349.90 L429.93 349.79 L430.50 349.69 L431.08 349.58 L431.65 349.47 L432.23 349.36 L432.80 349.26 L433.38 349.15 L433.95 349.04 L434.52 348.93 L435.10 348.82 L435.67 348.71 L436.25 348.59 L436.82 348.48 L437.40 348.37 L437.97 348.26 L438.54 348.14 L439.12 348.03 L439.69 347.92 L440.27 347.80 L440.84 347.69 L441.42 347.57 L441.99 347.46 L442.56 347.34 L443.14 347.22 L443.71 347.10 L444.29 346.99 L444.86 346.87 L445.44 346.75 L446.01 346.63 L446.58 346.51 L447.16 346.39 L447.73 346.27 L448.31 346.15 L448.88 346.03 L449.46 345.90 L450.03 345.78 L450.60 345.66 L451.18 345.53 L451.75 345.41 L452.33 345.29 L452.90 345.16 L453.48 345.03 L454.05 344.91 L454.62 344.78 L455.20 344.66 L455.77 344.53 L456.35 344.40 L456.92 344.27 L457.50 344.14 L458.07 344.01 L458.64 343.88 L459.22 343.75 L459.79 343.62 L460.37 343.49 L460.94 343.36 L461.52 343.23 L462.09 343.09 L462.67 342.96 L463.24 342.83 L463.81 342.69 L464.39 342.56 L464.96 342.42 L465.54 342.28 L466.11 342.15 L466.69 342.01 L467.26 341.87 L467.83 341.74 L468.41 341.60 L468.98 341.46 L469.56 341.32 L470.13 341.18 L470.71 341.04 L471.28 340.90 L471.85 340.76 L472.43 340.61 L473.00 340.47 L473.58 340.33 L474.15 340.19 L474.73 340.04 L475.30 339.90 L475.87 339.75 L476.45 339.61 L477.02 339.46 L477.60 339.32 L478.17 339.17 L478.75 339.02 L479.32 338.87 L479.89 338.72 L480.47 338.57 L481.04 338.43 L481.62 338.28 L482.19 338.12 L482.77 337.97 L483.34 337.82 L483.91 337.67 L484.49 337.52 L485.06 337.36 L485.64 337.21 L486.21 337.06 L486.79 336.90 L487.36 336.75 L487.93 336.59 L488.51 336.43 L489.08 336.28 L489.66 336.12 L490.23 335.96 L490.81 335.80 L491.38 335.64" fill="none" stroke="#08306b" stroke-width="5.45" stroke-linejoin="round" stroke-linecap="butt" stroke-dasharray="33.984 8.496 5.310 8.496"/>
<path d="M146.80 415.70 L147.37 416.41 L147.95 417.12 L148.52 417.82 L149.10 418.53 L149.67 419.24 L150.25 419.94 L150.82 420.65 L151.39 421.36 L151.97 422.06 L152.54 422.77 L153.12 423.48 L153.69 424.18 L154.27 424.89 L154.84 425.59 L155.41 426.30 L155.99 427.00 L156.56 427.71 L157.14 428.41 L157.71 429.11 L158.29 429.82 L158.86 430.52 L159.43 431.22 L160.01 431.93 L160.58 432.63 L161.16 433.33 L161.73 434.04 L162.31 434.74 L162.88 435.44 L163.45 436.14 L164.03 436.84 L164.60 437.54 L165.18 438.24 L165.75 438.95 L166.33 439.65 L166.90 440.35 L167.47 441.06 L168.05 441.76 L168.62 442.46 L169.20 443.16 L169.77 443.87 L170.35 444.57 L170.92 445.27 L171.49 445.97 L172.07 446.67 L172.64 447.37 L173.22 448.07 L173.79 448.76 L174.37 449.46 L174.94 450.15 L175.52 450.85 L176.09 451.54 L176.66 452.23 L177.24 452.92 L177.81 453.60 L178.39 454.29 L178.96 454.97 L179.54 455.65 L180.11 456.33 L180.68 457.01 L181.26 457.68 L181.83 458.35 L182.41 459.02 L182.98 459.69 L183.56 460.35 L184.13 461.01 L184.70 461.66 L185.28 462.31 L185.85 462.96 L186.43 463.60 L187.00 464.24 L187.58 464.87 L188.15 465.50 L188.72 466.13 L189.30 466.75 L189.87 467.38 L190.45 468.00 L191.02 468.61 L191.60 469.22 L192.17 469.83 L192.74 470.44 L193.32 471.05 L193.89 471.65 L194.47 472.25 L195.04 472.85 L195.62 473.44 L196.19 474.03 L196.76 474.62 L197.34 475.20 L197.91 475.78 L198.49 476.36 L199.06 476.94 L199.64 477.51 L200.21 478.07 L200.78 478.63 L201.36 479.19 L201.93 479.74 L202.51 480.29 L203.08 480.83 L203.66 481.36 L204.23 481.89 L204.80 482.41 L205.38 482.93 L205.95 483.44 L206.53 483.97 L207.10 484.51 L207.68 485.06 L208.25 485.62 L208.82 486.17 L209.40 486.72 L209.97 487.25 L210.55 487.78 L211.12 488.28 L211.70 488.76 L212.27 489.21 L212.84 489.63 L213.42 490.02 L213.99 490.38 L214.57 490.71 L215.14 491.01 L215.72 491.29 L216.29 491.55 L216.86 491.78 L217.44 491.98 L218.01 492.16 L218.59 492.30 L219.16 492.41 L219.74 492.49 L220.31 492.53 L220.88 492.54 L221.46 492.53 L222.03 492.48 L222.61 492.41 L223.18 492.32 L223.76 492.20 L224.33 492.06 L224.90 491.89 L225.48 491.69 L226.05 491.47 L226.63 491.22 L227.20 490.95 L227.78 490.66 L228.35 490.34 L228.92 490.00 L229.50 489.63 L230.07 489.24 L230.65 488.83 L231.22 488.39 L231.80 487.94 L232.37 487.46 L232.95 486.97 L233.52 486.45 L234.09 485.93 L234.67 485.38 L235.24 484.81 L235.82 484.23 L236.39 483.64 L236.97 483.03 L237.54 482.41 L238.11 481.77 L238.69 481.12 L239.26 480.45 L239.84 479.78 L240.41 479.09 L240.99 478.39 L241.56 477.68 L242.13 476.96 L242.71 476.23 L243.28 475.49 L243.86 474.74 L244.43 473.98 L245.01 473.22 L245.58 472.45 L246.15 471.66 L246.73 470.87 L247.30 470.08 L247.88 469.28 L248.45 468.47 L249.03 467.65 L249.60 466.83 L250.17 466.00 L250.75 465.17 L251.32 464.34 L251.90 463.49 L252.47 462.65 L253.05 461.80 L253.62 460.94 L254.19 460.09 L254.77 459.22 L255.34 458.36 L255.92 457.49 L256.49 456.62 L257.07 455.74 L257.64 454.87 L258.21 453.98 L258.79 453.10 L259.36 452.21 L259.94 451.33 L260.51 450.43 L261.09 449.54 L261.66 448.65 L262.23 447.75 L262.81 446.85 L263.38 445.94 L263.96 445.04 L264.53 444.13 L265.11 443.23 L265.68 442.32 L266.25 441.41 L266.83 440.49 L267.40 439.58 L267.98 438.66 L268.55 437.74 L269.13 436.82 L269.70 435.90 L270.27 434.98 L270.85 434.06 L271.42 433.13 L272.00 432.21 L272.57 431.28 L273.15 430.35 L273.72 429.42 L274.29 428.49 L274.87 427.56 L275.44 426.62 L276.02 425.69 L276.59 424.75 L277.17 423.81 L277.74 422.88 L278.31 421.94 L278.89 421.00 L279.46 420.06 L280.04 419.11 L280.61 418.17 L281.19 417.23 L281.76 416.28 L282.33 415.34 L282.91 414.39 L283.48 413.44 L284.06 412.49 L284.63 411.54 L285.21 410.59 L285.78 409.64 L286.35 408.69 L286.93 407.73 L287.50 406.78 L288.08 405.82 L288.65 404.86 L289.23 403.91 L289.80 402.95 L290.38 401.99 L290.95 401.03 L291.52 400.07 L292.10 399.11 L292.67 398.14 L293.25 397.18 L293.82 396.22 L294.40 395.25 L294.97 394.28 L295.54 393.32 L296.12 392.35 L296.69 391.38 L297.27 390.41 L297.84 389.44 L298.42 388.47 L298.99 387.50 L299.56 386.52 L300.14 385.55 L300.71 384.57 L301.29 383.60 L301.86 382.62 L302.44 381.64 L303.01 380.67 L303.58 379.69 L304.16 378.71 L304.73 377.73 L305.31 376.75 L305.88 375.76 L306.46 374.78 L307.03 373.80 L307.60 372.81 L308.18 371.83 L308.75 370.84 L309.33 369.85 L309.90 368.86 L310.48 367.88 L311.05 366.89 L311.62 365.89 L312.20 364.90 L312.77 363.91 L313.35 362.92 L313.92 361.92 L314.50 360.93 L315.07 359.93 L315.64 358.94 L316.22 357.94 L316.79 356.94 L317.37 355.94 L317.94 354.95 L318.52 353.95 L319.09 352.94 L319.66 351.94 L320.24 350.94 L320.81 349.94 L321.39 348.93 L321.96 347.93 L322.54 346.92 L323.11 345.91 L323.68 344.91 L324.26 343.90 L324.83 342.89 L325.41 341.88 L325.98 340.87 L326.56 339.86 L327.13 338.85 L327.70 337.83 L328.28 336.82 L328.85 335.81 L329.43 334.79 L330.00 333.77 L330.58 332.76 L331.15 331.74 L331.72 330.72 L332.30 329.70 L332.87 328.68 L333.45 327.66 L334.02 326.64 L334.60 325.62 L335.17 324.60 L335.74 323.57 L336.32 322.55 L336.89 321.52 L337.47 320.50 L338.04 319.47 L338.62 318.44 L339.19 317.41 L339.76 316.38 L340.34 315.35 L340.91 314.32 L341.49 313.29 L342.06 312.26 L342.64 311.23 L343.21 310.19 L343.78 309.16 L344.36 308.12 L344.93 307.09 L345.51 306.05 L346.08 305.01 L346.66 303.97 L347.23 302.94 L347.81 301.90 L348.38 300.86 L348.95 299.81 L349.53 298.77 L350.10 297.73 L350.68 296.69 L351.25 295.64 L351.83 294.60 L352.40 293.55 L352.97 292.50 L353.55 291.46 L354.12 290.41 L354.70 289.36 L355.27 288.31 L355.85 287.26 L356.42 286.21 L356.99 285.16 L357.57 284.11 L358.14 283.05 L358.72 282.00 L359.29 280.94 L359.87 279.89 L360.44 278.83 L361.01 277.78 L361.59 276.72 L362.16 275.66 L362.74 274.60 L363.31 273.54 L363.89 272.48 L364.46 271.42 L365.03 270.36 L365.61 269.30 L366.18 268.23 L366.76 267.17 L367.33 266.10 L367.91 265.04 L368.48 263.97 L369.05 262.91 L369.63 261.84 L370.20 260.77 L370.78 259.70 L371.35 258.63 L371.93 257.56 L372.50 256.49 L373.07 255.42 L373.65 254.34 L374.22 253.27 L374.80 252.20 L375.37 251.12 L375.95 250.05 L376.52 248.97 L377.09 247.89 L377.67 246.82 L378.24 245.74 L378.82 244.66 L379.39 243.58 L379.97 242.50 L380.54 241.42 L381.11 240.33 L381.69 239.25 L382.26 238.17 L382.84 237.08 L383.41 236.00 L383.99 234.91 L384.56 233.83 L385.13 232.74 L385.71 231.65 L386.28 230.57 L386.86 229.48 L387.43 228.39 L388.01 227.30 L388.58 226.21 L389.15 225.12 L389.73 224.02 L390.30 222.93 L390.88 221.84 L391.45 220.74 L392.03 219.65 L392.60 218.55 L393.17 217.45 L393.75 216.36 L394.32 215.26 L394.90 214.16 L395.47 213.06 L396.05 211.96 L396.62 210.86 L397.19 209.76 L397.77 208.66 L398.34 207.56 L398.92 206.45 L399.49 205.35 L400.07 204.25 L400.64 203.14 L401.21 202.03 L401.79 200.93 L402.36 199.82 L402.94 198.71 L403.51 197.60 L404.09 196.49 L404.66 195.38 L405.24 194.27 L405.81 193.16 L406.38 192.05 L406.96 190.94 L407.53 189.83 L408.11 188.71 L408.68 187.60 L409.26 186.48 L409.83 185.37 L410.40 184.25 L410.98 183.13 L411.55 182.01 L412.13 180.90 L412.70 179.78 L413.28 178.66 L413.85 177.54 L414.42 176.42 L415.00 175.29 L415.57 174.17 L416.15 173.05 L416.72 171.93 L417.30 170.80 L417.87 169.68 L418.44 168.55 L419.02 167.42 L419.59 166.30 L420.17 165.17 L420.74 164.04 L421.32 162.91 L421.89 161.78 L422.46 160.65 L423.04 159.52 L423.61 158.39 L424.19 157.26 L424.76 156.13 L425.34 154.99 L425.91 153.86 L426.48 152.72 L427.06 151.59 L427.63 150.45 L428.21 149.32 L428.78 148.18 L429.36 147.04 L429.93 145.90 L430.50 144.77 L431.08 143.63 L431.65 142.49 L432.23 141.34 L432.80 140.20 L433.38 139.06 L433.95 137.92 L434.52 136.78 L435.10 135.63 L435.67 134.49 L436.25 133.34 L436.82 132.20 L437.40 131.05 L437.97 129.90 L438.54 128.76 L439.12 127.61 L439.69 126.46 L440.27 125.31 L440.84 124.16 L441.42 123.01 L441.99 121.86 L442.56 120.70 L443.14 119.55 L443.71 118.40 L444.29 117.25 L444.86 116.09 L445.44 114.94 L446.01 113.78 L446.58 112.62 L447.16 111.47 L447.73 110.31 L448.31 109.15 L448.88 107.99 L449.46 106.84 L450.03 105.68 L450.60 104.52 L451.18 103.35 L451.75 102.19 L452.33 101.03 L452.90 99.87 L453.48 98.70 L454.05 97.54 L454.62 96.38 L455.20 95.21 L455.77 94.05 L456.35 92.88 L456.92 91.71 L457.50 90.55 L458.07 89.38 L458.64 88.21 L459.22 87.04 L459.79 85.87 L460.37 84.70 L460.94 83.53 L461.52 82.36 L462.09 81.19 L462.67 80.01 L463.24 78.84 L463.81 77.67 L464.39 76.49 L464.96 75.32 L465.54 74.14 L466.11 72.97 L466.69 71.79 L467.26 70.61 L467.83 69.43 L468.41 68.26 L468.98 67.08 L469.56 65.90 L470.13 64.72 L470.71 63.54 L471.28 62.36 L471.85 61.17 L472.43 59.99 L473.00 58.81 L473.58 57.63 L474.15 56.44 L474.73 55.26 L475.30 54.07 L475.87 52.89 L476.45 51.70 L477.02 50.51 L477.60 49.33 L478.17 48.14 L478.75 46.95 L479.32 45.76 L479.89 44.57 L480.47 43.38 L481.04 42.19 L481.62 41.00 L482.19 39.81 L482.77 38.61 L483.34 37.42 L483.91 36.23 L484.49 35.03 L485.06 33.84 L485.64 32.65 L486.21 31.45 L486.79 30.25 L487.36 29.06 L487.93 27.86 L488.51 26.66 L489.08 25.46 L489.66 24.27 L490.23 23.07 L490.81 21.87 L491.38 20.67" fill="none" stroke="#800000" stroke-width="5.45" stroke-linejoin="round" stroke-linecap="butt" stroke-dasharray="33.984 8.496 5.310 8.496"/>
<path d="M146.80 605.85 L147.37 605.85 L147.95 605.85 L148.52 605.85 L149.10 605.85 L149.67 605.85 L150.25 605.85 L150.82 605.85 L151.39 605.85 L151.97 605.85 L152.54 605.85 L153.12 605.85 L153.69 605.85 L154.27 605.85 L154.84 605.85 L155.41 605.85 L155.99 605.85 L156.56 605.85 L157.14 605.85 L157.71 605.85 L158.29 605.85 L158.86 605.85 L159.43 605.85 L160.01 605.85 L160.58 605.85 L161.16 605.85 L161.73 605.85 L162.31 605.85 L162.88 605.85 L163.45 605.85 L164.03 605.85 L164.60 605.85 L165.18 605.85 L165.75 605.85 L166.33 605.85 L166.90 605.85 L167.47 605.85 L168.05 605.85 L168.62 605.85 L169.20 605.85 L169.77 605.85 L170.35 605.85 L170.92 605.85 L171.49 605.85 L172.07 605.85 L172.64 605.85 L173.22 605.85 L173.79 605.85 L174.37 605.85 L174.94 605.85 L175.52 605.85 L176.09 605.85 L176.66 605.85 L177.24 605.85 L177.81 605.85 L178.39 605.85 L178.96 605.85 L179.54 605.85 L180.11 605.85 L180.68 605.85 L181.26 605.85 L181.83 605.85 L182.41 605.85 L182.98 605.85 L183.56 605.85 L184.13 605.85 L184.70 605.85 L185.28 605.85 L185.85 605.85 L186.43 605.85 L187.00 605.85 L187.58 605.85 L188.15 605.85 L188.72 605.85 L189.30 605.85 L189.87 605.85 L190.45 605.85 L191.02 605.85 L191.60 605.85 L192.17 605.85 L192.74 605.85 L193.32 605.85 L193.89 605.85 L194.47 605.85 L195.04 605.85 L195.62 605.85 L196.19 605.85 L196.76 605.85 L197.34 605.85 L197.91 605.85 L198.49 605.85 L199.06 605.85 L199.64 605.85 L200.21 605.85 L200.78 605.85 L201.36 605.85 L201.93 605.85 L202.51 605.85 L203.08 605.85 L203.66 605.85 L204.23 605.85 L204.80 605.85 L205.38 605.85 L205.95 605.85 L206.53 605.85 L207.10 605.85 L207.68 605.85 L208.25 605.85 L208.82 605.85 L209.40 605.85 L209.97 605.85 L210.55 605.85 L211.12 605.85 L211.70 605.85 L212.27 605.85 L212.84 605.85 L213.42 605.85 L213.99 605.85 L214.57 605.85 L215.14 605.85 L215.72 605.85 L216.29 605.85 L216.86 605.85 L217.44 605.85 L218.01 605.85 L218.59 605.85 L219.16 605.85 L219.74 605.85 L220.31 605.85 L220.88 605.85 L221.46 605.85 L222.03 605.85 L222.61 605.85 L223.18 605.85 L223.76 605.85 L224.33 605.85 L224.90 605.85 L225.48 605.85 L226.05 605.85 L226.63 605.85 L227.20 605.85 L227.78 605.85 L228.35 605.85 L228.92 605.85 L229.50 605.85 L230.07 605.85 L230.65 605.85 L231.22 605.85 L231.80 605.85 L232.37 605.85 L232.95 605.85 L233.52 605.85 L234.09 605.85 L234.67 605.85 L235.24 605.85 L235.82 605.85 L236.39 605.85 L236.97 605.85 L237.54 605.85 L238.11 605.85 L238.69 605.85 L239.26 605.85 L239.84 605.85 L240.41 605.85 L240.99 605.85 L241.56 605.85 L242.13 605.85 L242.71 605.85 L243.28 605.85 L243.86 605.85 L244.43 605.85 L245.01 605.85 L245.58 605.85 L246.15 605.85 L246.73 605.85 L247.30 605.85 L247.88 605.85 L248.45 605.85 L249.03 605.85 L249.60 605.85 L250.17 605.85 L250.75 605.85 L251.32 605.85 L251.90 605.85 L252.47 605.85 L253.05 605.85 L253.62 605.85 L254.19 605.85 L254.77 605.85 L255.34 605.85 L255.92 605.85 L256.49 605.85 L257.07 605.85 L257.64 605.85 L258.21 605.85 L258.79 605.85 L259.36 605.85 L259.94 605.85 L260.51 605.85 L261.09 605.85 L261.66 605.85 L262.23 605.85 L262.81 605.85 L263.38 605.85 L263.96 605.85 L264.53 605.85 L265.11 605.85 L265.68 605.85 L266.25 605.85 L266.83 605.85 L267.40 605.85 L267.98 605.85 L268.55 605.85 L269.13 605.85 L269.70 605.85 L270.27 605.85 L270.85 605.85 L271.42 605.85 L272.00 605.85 L272.57 605.85 L273.15 605.85 L273.72 605.85 L274.29 605.85 L274.87 605.85 L275.44 605.85 L276.02 605.85 L276.59 605.85 L277.17 605.85 L277.74 605.85 L278.31 605.85 L278.89 605.85 L279.46 605.85 L280.04 605.85 L280.61 605.85 L281.19 605.85 L281.76 605.85 L282.33 605.85 L282.91 605.85 L283.48 605.85 L284.06 605.85 L284.63 605.85 L285.21 605.85 L285.78 605.85 L286.35 605.85 L286.93 605.85 L287.50 605.85 L288.08 605.85 L288.65 605.85 L289.23 605.85 L289.80 605.85 L290.38 605.85 L290.95 605.85 L291.52 605.85 L292.10 605.85 L292.67 605.85 L293.25 605.85 L293.82 605.85 L294.40 605.85 L294.97 605.85 L295.54 605.85 L296.12 605.85 L296.69 605.85 L297.27 605.85 L297.84 605.85 L298.42 605.85 L298.99 605.85 L299.56 605.85 L300.14 605.85 L300.71 605.85 L301.29 605.85 L301.86 605.85 L302.44 605.85 L303.01 605.85 L303.58 605.85 L304.16 605.85 L304.73 605.85 L305.31 605.85 L305.88 605.85 L306.46 605.85 L307.03 605.85 L307.60 605.85 L308.18 605.85 L308.75 605.85 L309.33 605.85 L309.90 605.85 L310.48 605.85 L311.05 605.85 L311.62 605.85 L312.20 605.85 L312.77 605.85 L313.35 605.85 L313.92 605.85 L314.50 605.85 L315.07 605.85 L315.64 605.85 L316.22 605.85 L316.79 605.85 L317.37 605.85 L317.94 605.85 L318.52 605.85 L319.09 605.85 L319.66 605.85 L320.24 605.85 L320.81 605.85 L321.39 605.85 L321.96 605.85 L322.54 605.85 L323.11 605.85 L323.68 605.85 L324.26 605.85 L324.83 605.85 L325.41 605.85 L325.98 605.85 L326.56 605.85 L327.13 605.85 L327.70 605.85 L328.28 605.85 L328.85 605.85 L329.43 605.85 L330.00 605.85 L330.58 605.85 L331.15 605.85 L331.72 605.85 L332.30 605.85 L332.87 605.85 L333.45 605.85 L334.02 605.85 L334.60 605.85 L335.17 605.85 L335.74 605.85 L336.32 605.85 L336.89 605.85 L337.47 605.85 L338.04 605.85 L338.62 605.85 L339.19 605.85 L339.76 605.85 L340.34 605.85 L340.91 605.85 L341.49 605.85 L342.06 605.85 L342.64 605.85 L343.21 605.85 L343.78 605.85 L344.36 605.85 L344.93 605.85 L345.51 605.85 L346.08 605.85 L346.66 605.85 L347.23 605.85 L347.81 605.85 L348.38 605.85 L348.95 605.85 L349.53 605.85 L350.10 605.85 L350.68 605.85 L351.25 605.85 L351.83 605.85 L352.40 605.85 L352.97 605.85 L353.55 605.85 L354.12 605.85 L354.70 605.85 L355.27 605.85 L355.85 605.85 L356.42 605.85 L356.99 605.85 L357.57 605.85 L358.14 605.85 L358.72 605.85 L359.29 605.85 L359.87 605.85 L360.44 605.85 L361.01 605.85 L361.59 605.85 L362.16 605.85 L362.74 605.85 L363.31 605.85 L363.89 605.85 L364.46 605.85 L365.03 605.85 L365.61 605.85 L366.18 605.85 L366.76 605.85 L367.33 605.85 L367.91 605.85 L368.48 605.85 L369.05 605.85 L369.63 605.85 L370.20 605.85 L370.78 605.85 L371.35 605.85 L371.93 605.85 L372.50 605.85 L373.07 605.85 L373.65 605.85 L374.22 605.85 L374.80 605.85 L375.37 605.85 L375.95 605.85 L376.52 605.85 L377.09 605.85 L377.67 605.85 L378.24 605.85 L378.82 605.85 L379.39 605.85 L379.97 605.85 L380.54 605.85 L381.11 605.85 L381.69 605.85 L382.26 605.85 L382.84 605.85 L383.41 605.85 L383.99 605.85 L384.56 605.85 L385.13 605.85 L385.71 605.85 L386.28 605.85 L386.86 605.85 L387.43 605.85 L388.01 605.85 L388.58 605.85 L389.15 605.85 L389.73 605.85 L390.30 605.85 L390.88 605.85 L391.45 605.85 L392.03 605.85 L392.60 605.85 L393.17 605.85 L393.75 605.85 L394.32 605.85 L394.90 605.85 L395.47 605.85 L396.05 605.85 L396.62 605.85 L397.19 605.85 L397.77 605.85 L398.34 605.85 L398.92 605.85 L399.49 605.85 L400.07 605.85 L400.64 605.85 L401.21 605.85 L401.79 605.85 L402.36 605.85 L402.94 605.85 L403.51 605.85 L404.09 605.85 L404.66 605.85 L405.24 605.85 L405.81 605.85 L406.38 605.85 L406.96 605.85 L407.53 605.85 L408.11 605.85 L408.68 605.85 L409.26 605.85 L409.83 605.85 L410.40 605.85 L410.98 605.85 L411.55 605.85 L412.13 605.85 L412.70 605.85 L413.28 605.85 L413.85 605.85 L414.42 605.85 L415.00 605.85 L415.57 605.85 L416.15 605.85 L416.72 605.85 L417.30 605.85 L417.87 605.85 L418.44 605.85 L419.02 605.85 L419.59 605.85 L420.17 605.85 L420.74 605.85 L421.32 605.85 L421.89 605.85 L422.46 605.85 L423.04 605.85 L423.61 605.85 L424.19 605.85 L424.76 605.85 L425.34 605.85 L425.91 605.85 L426.48 605.85 L427.06 605.85 L427.63 605.85 L428.21 605.85 L428.78 605.85 L429.36 605.85 L429.93 605.85 L430.50 605.85 L431.08 605.85 L431.65 605.85 L432.23 605.85 L432.80 605.85 L433.38 605.85 L433.95 605.85 L434.52 605.85 L435.10 605.85 L435.67 605.85 L436.25 605.85 L436.82 605.85 L437.40 605.85 L437.97 605.85 L438.54 605.85 L439.12 605.85 L439.69 605.85 L440.27 605.85 L440.84 605.85 L441.42 605.85 L441.99 605.85 L442.56 605.85 L443.14 605.85 L443.71 605.85 L444.29 605.85 L444.86 605.85 L445.44 605.85 L446.01 605.85 L446.58 605.85 L447.16 605.85 L447.73 605.85 L448.31 605.85 L448.88 605.85 L449.46 605.85 L450.03 605.85 L450.60 605.85 L451.18 605.85 L451.75 605.85 L452.33 605.85 L452.90 605.85 L453.48 605.85 L454.05 605.85 L454.62 605.85 L455.20 605.85 L455.77 605.85 L456.35 605.85 L456.92 605.85 L457.50 605.85 L458.07 605.85 L458.64 605.85 L459.22 605.85 L459.79 605.85 L460.37 605.85 L460.94 605.85 L461.52 605.85 L462.09 605.85 L462.67 605.85 L463.24 605.85 L463.81 605.85 L464.39 605.85 L464.96 605.85 L465.54 605.85 L466.11 605.85 L466.69 605.85 L467.26 605.85 L467.83 605.85 L468.41 605.85 L468.98 605.85 L469.56 605.85 L470.13 605.85 L470.71 605.85 L471.28 605.85 L471.85 605.85 L472.43 605.85 L473.00 605.85 L473.58 605.85 L474.15 605.85 L474.73 605.85 L475.30 605.85 L475.87 605.85 L476.45 605.85 L477.02 605.85 L477.60 605.85 L478.17 605.85 L478.75 605.85 L479.32 605.85 L479.89 605.85 L480.47 605.85 L481.04 605.85 L481.62 605.85 L482.19 605.85 L482.77 605.85 L483.34 605.85 L483.91 605.85 L484.49 605.85 L485.06 605.85 L485.64 605.85 L486.21 605.85 L486.79 605.85 L487.36 605.85 L487.93 605.85 L488.51 605.85 L489.08 605.85 L489.66 605.85 L490.23 605.85 L490.81 605.85 L491.38 605.85" fill="none" stroke="#000000" stroke-width="5.45" stroke-linejoin="round" stroke-linecap="butt" stroke-dasharray="5.310 8.761"/>
<path d="M146.80 605.85 L147.37 606.15 L147.95 606.44 L148.52 606.73 L149.10 607.02 L149.67 607.31 L150.25 607.59 L150.82 607.87 L151.39 608.15 L151.97 608.42 L152.54 608.69 L153.12 608.96 L153.69 609.23 L154.27 609.49 L154.84 609.75 L155.41 610.01 L155.99 610.27 L156.56 610.52 L157.14 610.77 L157.71 611.02 L158.29 611.26 L158.86 611.51 L159.43 611.74 L160.01 611.98 L160.58 612.22 L161.16 612.45 L161.73 612.68 L162.31 612.90 L162.88 613.13 L163.45 613.35 L164.03 613.57 L164.60 613.79 L165.18 614.00 L165.75 614.21 L166.33 614.42 L166.90 614.63 L167.47 614.83 L168.05 615.04 L168.62 615.24 L169.20 615.43 L169.77 615.63 L170.35 615.82 L170.92 616.01 L171.49 616.20 L172.07 616.39 L172.64 616.57 L173.22 616.75 L173.79 616.93 L174.37 617.11 L174.94 617.28 L175.52 617.45 L176.09 617.62 L176.66 617.79 L177.24 617.96 L177.81 618.12 L178.39 618.28 L178.96 618.44 L179.54 618.60 L180.11 618.75 L180.68 618.91 L181.26 619.06 L181.83 619.20 L182.41 619.35 L182.98 619.50 L183.56 619.64 L184.13 619.78 L184.70 619.92 L185.28 620.05 L185.85 620.19 L186.43 620.32 L187.00 620.45 L187.58 620.58 L188.15 620.71 L188.72 620.83 L189.30 620.96 L189.87 621.08 L190.45 621.20 L191.02 621.31 L191.60 621.43 L192.17 621.54 L192.74 621.65 L193.32 621.76 L193.89 621.87 L194.47 621.98 L195.04 622.08 L195.62 622.19 L196.19 622.29 L196.76 622.39 L197.34 622.49 L197.91 622.58 L198.49 622.68 L199.06 622.77 L199.64 622.86 L200.21 622.95 L200.78 623.04 L201.36 623.12 L201.93 623.21 L202.51 623.29 L203.08 623.37 L203.66 623.45 L204.23 623.53 L204.80 623.61 L205.38 623.68 L205.95 623.76 L206.53 623.83 L207.10 623.90 L207.68 623.97 L208.25 624.04 L208.82 624.11 L209.40 624.17 L209.97 624.23 L210.55 624.30 L211.12 624.36 L211.70 624.42 L212.27 624.47 L212.84 624.53 L213.42 624.58 L213.99 624.64 L214.57 624.69 L215.14 624.74 L215.72 624.79 L216.29 624.84 L216.86 624.88 L217.44 624.93 L218.01 624.97 L218.59 625.01 L219.16 625.06 L219.74 625.10 L220.31 625.13 L220.88 625.17 L221.46 625.21 L222.03 625.24 L222.61 625.27 L223.18 625.31 L223.76 625.34 L224.33 625.37 L224.90 625.40 L225.48 625.42 L226.05 625.45 L226.63 625.47 L227.20 625.50 L227.78 625.52 L228.35 625.54 L228.92 625.56 L229.50 625.58 L230.07 625.60 L230.65 625.61 L231.22 625.63 L231.80 625.64 L232.37 625.66 L232.95 625.67 L233.52 625.68 L234.09 625.69 L234.67 625.70 L235.24 625.71 L235.82 625.71 L236.39 625.72 L236.97 625.72 L237.54 625.73 L238.11 625.73 L238.69 625.73 L239.26 625.73 L239.84 625.73 L240.41 625.73 L240.99 625.72 L241.56 625.72 L242.13 625.72 L242.71 625.71 L243.28 625.70 L243.86 625.70 L244.43 625.69 L245.01 625.68 L245.58 625.67 L246.15 625.66 L246.73 625.65 L247.30 625.63 L247.88 625.62 L248.45 625.60 L249.03 625.59 L249.60 625.57 L250.17 625.55 L250.75 625.54 L251.32 625.52 L251.90 625.50 L252.47 625.48 L253.05 625.45 L253.62 625.43 L254.19 625.41 L254.77 625.38 L255.34 625.36 L255.92 625.33 L256.49 625.30 L257.07 625.27 L257.64 625.24 L258.21 625.21 L258.79 625.18 L259.36 625.15 L259.94 625.12 L260.51 625.08 L261.09 625.05 L261.66 625.01 L262.23 624.98 L262.81 624.94 L263.38 624.90 L263.96 624.86 L264.53 624.82 L265.11 624.78 L265.68 624.74 L266.25 624.69 L266.83 624.65 L267.40 624.60 L267.98 624.56 L268.55 624.51 L269.13 624.47 L269.70 624.42 L270.27 624.37 L270.85 624.32 L271.42 624.27 L272.00 624.21 L272.57 624.16 L273.15 624.11 L273.72 624.05 L274.29 624.00 L274.87 623.94 L275.44 623.89 L276.02 623.83 L276.59 623.77 L277.17 623.71 L277.74 623.65 L278.31 623.59 L278.89 623.52 L279.46 623.46 L280.04 623.40 L280.61 623.33 L281.19 623.27 L281.76 623.20 L282.33 623.13 L282.91 623.06 L283.48 623.00 L284.06 622.93 L284.63 622.85 L285.21 622.78 L285.78 622.71 L286.35 622.64 L286.93 622.56 L287.50 622.49 L288.08 622.41 L288.65 622.33 L289.23 622.26 L289.80 622.18 L290.38 622.10 L290.95 622.02 L291.52 621.94 L292.10 621.85 L292.67 621.77 L293.25 621.69 L293.82 621.60 L294.40 621.52 L294.97 621.43 L295.54 621.34 L296.12 621.26 L296.69 621.17 L297.27 621.08 L297.84 620.99 L298.42 620.90 L298.99 620.80 L299.56 620.71 L300.14 620.62 L300.71 620.52 L301.29 620.43 L301.86 620.33 L302.44 620.23 L303.01 620.14 L303.58 620.04 L304.16 619.94 L304.73 619.84 L305.31 619.74 L305.88 619.63 L306.46 619.53 L307.03 619.43 L307.60 619.32 L308.18 619.22 L308.75 619.11 L309.33 619.00 L309.90 618.90 L310.48 618.79 L311.05 618.68 L311.62 618.57 L312.20 618.46 L312.77 618.35 L313.35 618.23 L313.92 618.12 L314.50 618.01 L315.07 617.89 L315.64 617.77 L316.22 617.66 L316.79 617.54 L317.37 617.42 L317.94 617.30 L318.52 617.18 L319.09 617.06 L319.66 616.94 L320.24 616.82 L320.81 616.70 L321.39 616.57 L321.96 616.45 L322.54 616.32 L323.11 616.20 L323.68 616.07 L324.26 615.94 L324.83 615.81 L325.41 615.68 L325.98 615.55 L326.56 615.42 L327.13 615.29 L327.70 615.16 L328.28 615.02 L328.85 614.89 L329.43 614.76 L330.00 614.62 L330.58 614.48 L331.15 614.35 L331.72 614.21 L332.30 614.07 L332.87 613.93 L333.45 613.79 L334.02 613.65 L334.60 613.51 L335.17 613.36 L335.74 613.22 L336.32 613.08 L336.89 612.93 L337.47 612.79 L338.04 612.64 L338.62 612.49 L339.19 612.35 L339.76 612.20 L340.34 612.05 L340.91 611.90 L341.49 611.75 L342.06 611.59 L342.64 611.44 L343.21 611.29 L343.78 611.13 L344.36 610.98 L344.93 610.82 L345.51 610.67 L346.08 610.51 L346.66 610.35 L347.23 610.19 L347.81 610.03 L348.38 609.87 L348.95 609.71 L349.53 609.55 L350.10 609.39 L350.68 609.23 L351.25 609.06 L351.83 608.90 L352.40 608.73 L352.97 608.57 L353.55 608.40 L354.12 608.23 L354.70 608.06 L355.27 607.89 L355.85 607.73 L356.42 607.55 L356.99 607.38 L357.57 607.21 L358.14 607.04 L358.72 606.87 L359.29 606.69 L359.87 606.52 L360.44 606.34 L361.01 606.16 L361.59 605.99 L362.16 605.81 L362.74 605.63 L363.31 605.45 L363.89 605.27 L364.46 605.09 L365.03 604.91 L365.61 604.73 L366.18 604.54 L366.76 604.36 L367.33 604.18 L367.91 603.99 L368.48 603.80 L369.05 603.62 L369.63 603.43 L370.20 603.24 L370.78 603.05 L371.35 602.86 L371.93 602.67 L372.50 602.48 L373.07 602.29 L373.65 602.10 L374.22 601.91 L374.80 601.71 L375.37 601.52 L375.95 601.32 L376.52 601.13 L377.09 600.93 L377.67 600.73 L378.24 600.54 L378.82 600.34 L379.39 600.14 L379.97 599.94 L380.54 599.74 L381.11 599.54 L381.69 599.33 L382.26 599.13 L382.84 598.93 L383.41 598.72 L383.99 598.52 L384.56 598.31 L385.13 598.11 L385.71 597.90 L386.28 597.69 L386.86 597.48 L387.43 597.27 L388.01 597.06 L388.58 596.85 L389.15 596.64 L389.73 596.43 L390.30 596.22 L390.88 596.00 L391.45 595.79 L392.03 595.58 L392.60 595.36 L393.17 595.14 L393.75 594.93 L394.32 594.71 L394.90 594.49 L395.47 594.27 L396.05 594.05 L396.62 593.83 L397.19 593.61 L397.77 593.39 L398.34 593.17 L398.92 592.95 L399.49 592.72 L400.07 592.50 L400.64 592.27 L401.21 592.05 L401.79 591.82 L402.36 591.60 L402.94 591.37 L403.51 591.14 L404.09 590.91 L404.66 590.68 L405.24 590.45 L405.81 590.22 L406.38 589.99 L406.96 589.76 L407.53 589.52 L408.11 589.29 L408.68 589.06 L409.26 588.82 L409.83 588.59 L410.40 588.35 L410.98 588.11 L411.55 587.88 L412.13 587.64 L412.70 587.40 L413.28 587.16 L413.85 586.92 L414.42 586.68 L415.00 586.44 L415.57 586.20 L416.15 585.95 L416.72 585.71 L417.30 585.47 L417.87 585.22 L418.44 584.98 L419.02 584.73 L419.59 584.48 L420.17 584.24 L420.74 583.99 L421.32 583.74 L421.89 583.49 L422.46 583.24 L423.04 582.99 L423.61 582.74 L424.19 582.49 L424.76 582.24 L425.34 581.98 L425.91 581.73 L426.48 581.48 L427.06 581.22 L427.63 580.97 L428.21 580.71 L428.78 580.45 L429.36 580.20 L429.93 579.94 L430.50 579.68 L431.08 579.42 L431.65 579.16 L432.23 578.90 L432.80 578.64 L433.38 578.38 L433.95 578.12 L434.52 577.85 L435.10 577.59 L435.67 577.33 L436.25 577.06 L436.82 576.80 L437.40 576.53 L437.97 576.26 L438.54 576.00 L439.12 575.73 L439.69 575.46 L440.27 575.19 L440.84 574.92 L441.42 574.65 L441.99 574.38 L442.56 574.11 L443.14 573.84 L443.71 573.56 L444.29 573.29 L444.86 573.02 L445.44 572.74 L446.01 572.47 L446.58 572.19 L447.16 571.91 L447.73 571.64 L448.31 571.36 L448.88 571.08 L449.46 570.80 L450.03 570.52 L450.60 570.24 L451.18 569.96 L451.75 569.68 L452.33 569.40 L452.90 569.12 L453.48 568.84 L454.05 568.55 L454.62 568.27 L455.20 567.98 L455.77 567.70 L456.35 567.41 L456.92 567.13 L457.50 566.84 L458.07 566.55 L458.64 566.26 L459.22 565.97 L459.79 565.69 L460.37 565.40 L460.94 565.10 L461.52 564.81 L462.09 564.52 L462.67 564.23 L463.24 563.94 L463.81 563.64 L464.39 563.35 L464.96 563.06 L465.54 562.76 L466.11 562.46 L466.69 562.17 L467.26 561.87 L467.83 561.57 L468.41 561.28 L468.98 560.98 L469.56 560.68 L470.13 560.38 L470.71 560.08 L471.28 559.78 L471.85 559.48 L472.43 559.17 L473.00 558.87 L473.58 558.57 L474.15 558.27 L474.73 557.96 L475.30 557.66 L475.87 557.35 L476.45 557.05 L477.02 556.74 L477.60 556.43 L478.17 556.13 L478.75 555.82 L479.32 555.51 L479.89 555.20 L480.47 554.89 L481.04 554.58 L481.62 554.27 L482.19 553.96 L482.77 553.65 L483.34 553.33 L483.91 553.02 L484.49 552.71 L485.06 552.39 L485.64 552.08 L486.21 551.76 L486.79 551.45 L487.36 551.13 L487.93 550.81 L488.51 550.50 L489.08 550.18 L489.66 549.86 L490.23 549.54 L490.81 549.22 L491.38 548.90" fill="none" stroke="#08306b" stroke-width="5.45" stroke-linejoin="round" stroke-linecap="butt" stroke-dasharray="5.310 8.761"/>
</g>
<g clip-path="url(#cb)">
<path d="M639.30 155.10 L639.87 156.22 L640.45 157.34 L641.02 158.46 L641.60 159.59 L642.17 160.72 L642.74 161.85 L643.32 162.99 L643.89 164.13 L644.46 165.27 L645.04 166.41 L645.61 167.56 L646.19 168.70 L646.76 169.86 L647.33 171.01 L647.91 172.17 L648.48 173.33 L649.05 174.49 L649.63 175.66 L650.20 176.83 L650.78 178.00 L651.35 179.17 L651.92 180.35 L652.50 181.53 L653.07 182.72 L653.64 183.91 L654.22 185.10 L654.79 186.29 L655.37 187.49 L655.94 188.69 L656.51 189.89 L657.09 191.10 L657.66 192.31 L658.24 193.53 L658.81 194.74 L659.38 195.96 L659.96 197.19 L660.53 198.42 L661.10 199.65 L661.68 200.88 L662.25 202.12 L662.83 203.36 L663.40 204.61 L663.97 205.86 L664.55 207.11 L665.12 208.36 L665.69 209.62 L666.27 210.89 L666.84 212.16 L667.42 213.43 L667.99 214.70 L668.56 215.98 L669.14 217.26 L669.71 218.55 L670.29 219.84 L670.86 221.13 L671.43 222.43 L672.01 223.74 L672.58 225.04 L673.15 226.35 L673.73 227.67 L674.30 228.98 L674.88 230.31 L675.45 231.63 L676.02 232.96 L676.60 234.29 L677.17 235.63 L677.74 236.97 L678.32 238.32 L678.89 239.67 L679.47 241.02 L680.04 242.38 L680.61 243.74 L681.19 245.11 L681.76 246.48 L682.33 247.85 L682.91 249.23 L683.48 250.61 L684.06 251.99 L684.63 253.38 L685.20 254.77 L685.78 256.17 L686.35 257.57 L686.93 258.97 L687.50 260.38 L688.07 261.78 L688.65 263.20 L689.22 264.61 L689.79 266.03 L690.37 267.45 L690.94 268.87 L691.52 270.30 L692.09 271.73 L692.66 273.16 L693.24 274.59 L693.81 276.03 L694.38 277.47 L694.96 278.91 L695.53 280.35 L696.11 281.79 L696.68 283.23 L697.25 284.67 L697.83 286.12 L698.40 287.56 L698.98 289.01 L699.55 290.45 L700.12 291.90 L700.70 293.34 L701.27 294.78 L701.84 296.22 L702.42 297.66 L702.99 299.10 L703.57 300.53 L704.14 301.96 L704.71 303.39 L705.29 304.81 L705.86 306.23 L706.43 307.65 L707.01 309.06 L707.58 310.46 L708.16 311.86 L708.73 313.26 L709.30 314.64 L709.88 316.02 L710.45 317.40 L711.02 318.76 L711.60 320.12 L712.17 321.46 L712.75 322.80 L713.32 324.13 L713.89 325.44 L714.47 326.75 L715.04 328.04 L715.62 329.33 L716.19 330.60 L716.76 331.86 L717.34 333.10 L717.91 334.33 L718.48 335.55 L719.06 336.75 L719.63 337.94 L720.21 339.11 L720.78 340.27 L721.35 341.42 L721.93 342.54 L722.50 343.65 L723.07 344.75 L723.65 345.82 L724.22 346.88 L724.80 347.93 L725.37 348.95 L725.94 349.96 L726.52 350.95 L727.09 351.92 L727.67 352.88 L728.24 353.81 L728.81 354.73 L729.39 355.63 L729.96 356.52 L730.53 357.38 L731.11 358.23 L731.68 359.06 L732.26 359.87 L732.83 360.66 L733.40 361.44 L733.98 362.19 L734.55 362.94 L735.12 363.66 L735.70 364.37 L736.27 365.06 L736.85 365.73 L737.42 366.39 L737.99 367.03 L738.57 367.65 L739.14 368.26 L739.71 368.86 L740.29 369.43 L740.86 370.00 L741.44 370.55 L742.01 371.08 L742.58 371.60 L743.16 372.11 L743.73 372.60 L744.31 373.08 L744.88 373.54 L745.45 373.99 L746.03 374.43 L746.60 374.86 L747.17 375.28 L747.75 375.68 L748.32 376.08 L748.90 376.46 L749.47 376.83 L750.04 377.19 L750.62 377.54 L751.19 377.88 L751.76 378.21 L752.34 378.53 L752.91 378.84 L753.49 379.14 L754.06 379.43 L754.63 379.71 L755.21 379.99 L755.78 380.25 L756.36 380.51 L756.93 380.77 L757.50 381.01 L758.08 381.24 L758.65 381.47 L759.22 381.70 L759.80 381.91 L760.37 382.12 L760.95 382.32 L761.52 382.52 L762.09 382.71 L762.67 382.89 L763.24 383.07 L763.81 383.25 L764.39 383.41 L764.96 383.58 L765.54 383.73 L766.11 383.89 L766.68 384.04 L767.26 384.18 L767.83 384.32 L768.40 384.45 L768.98 384.58 L769.55 384.71 L770.13 384.83 L770.70 384.95 L771.27 385.07 L771.85 385.18 L772.42 385.29 L773.00 385.39 L773.57 385.49 L774.14 385.59 L774.72 385.68 L775.29 385.78 L775.86 385.87 L776.44 385.95 L777.01 386.04 L777.59 386.12 L778.16 386.20 L778.73 386.27 L779.31 386.34 L779.88 386.42 L780.45 386.49 L781.03 386.55 L781.60 386.62 L782.18 386.68 L782.75 386.74 L783.32 386.80 L783.90 386.86 L784.47 386.91 L785.05 386.97 L785.62 387.02 L786.19 387.07 L786.77 387.12 L787.34 387.16 L787.91 387.21 L788.49 387.25 L789.06 387.29 L789.64 387.34 L790.21 387.38 L790.78 387.42 L791.36 387.45 L791.93 387.49 L792.50 387.52 L793.08 387.56 L793.65 387.59 L794.23 387.62 L794.80 387.65 L795.37 387.68 L795.95 387.71 L796.52 387.74 L797.10 387.77 L797.67 387.79 L798.24 387.82 L798.82 387.85 L799.39 387.87 L799.96 387.89 L800.54 387.91 L801.11 387.94 L801.69 387.96 L802.26 387.98 L802.83 388.00 L803.41 388.02 L803.98 388.04 L804.55 388.05 L805.13 388.07 L805.70 388.09 L806.28 388.10 L806.85 388.12 L807.42 388.13 L808.00 388.15 L808.57 388.16 L809.14 388.18 L809.72 388.19 L810.29 388.20 L810.87 388.22 L811.44 388.23 L812.01 388.24 L812.59 388.25 L813.16 388.26 L813.74 388.27 L814.31 388.28 L814.88 388.29 L815.46 388.30 L816.03 388.31 L816.60 388.32 L817.18 388.33 L817.75 388.34 L818.33 388.35 L818.90 388.36 L819.47 388.36 L820.05 388.37 L820.62 388.38 L821.19 388.39 L821.77 388.39 L822.34 388.40 L822.92 388.41 L823.49 388.41 L824.06 388.42 L824.64 388.42 L825.21 388.43 L825.78 388.43 L826.36 388.44 L826.93 388.44 L827.51 388.45 L828.08 388.45 L828.65 388.46 L829.23 388.46 L829.80 388.47 L830.38 388.47 L830.95 388.48 L831.52 388.48 L832.10 388.48 L832.67 388.49 L833.24 388.49 L833.82 388.49 L834.39 388.50 L834.97 388.50 L835.54 388.50 L836.11 388.51 L836.69 388.51 L837.26 388.51 L837.83 388.52 L838.41 388.52 L838.98 388.52 L839.56 388.52 L840.13 388.53 L840.70 388.53 L841.28 388.53 L841.85 388.53 L842.43 388.53 L843.00 388.54 L843.57 388.54 L844.15 388.54 L844.72 388.54 L845.29 388.54 L845.87 388.55 L846.44 388.55 L847.02 388.55 L847.59 388.55 L848.16 388.55 L848.74 388.55 L849.31 388.56 L849.88 388.56 L850.46 388.56 L851.03 388.56 L851.61 388.56 L852.18 388.56 L852.75 388.56 L853.33 388.56 L853.90 388.57 L854.47 388.57 L855.05 388.57 L855.62 388.57 L856.20 388.57 L856.77 388.57 L857.34 388.57 L857.92 388.57 L858.49 388.57 L859.07 388.57 L859.64 388.58 L860.21 388.58 L860.79 388.58 L861.36 388.58 L861.93 388.58 L862.51 388.58 L863.08 388.58 L863.66 388.58 L864.23 388.58 L864.80 388.58 L865.38 388.58 L865.95 388.58 L866.52 388.58 L867.10 388.58 L867.67 388.58 L868.25 388.58 L868.82 388.59 L869.39 388.59 L869.97 388.59 L870.54 388.59 L871.12 388.59 L871.69 388.59 L872.26 388.59 L872.84 388.59 L873.41 388.59 L873.98 388.59 L874.56 388.59 L875.13 388.59 L875.71 388.59 L876.28 388.59 L876.85 388.59 L877.43 388.59 L878.00 388.59 L878.57 388.59 L879.15 388.59 L879.72 388.59 L880.30 388.59 L880.87 388.59 L881.44 388.59 L882.02 388.59 L882.59 388.59 L883.16 388.59 L883.74 388.59 L884.31 388.59 L884.89 388.59 L885.46 388.59 L886.03 388.59 L886.61 388.59 L887.18 388.59 L887.76 388.59 L888.33 388.60 L888.90 388.60 L889.48 388.60 L890.05 388.60 L890.62 388.60 L891.20 388.60 L891.77 388.60 L892.35 388.60 L892.92 388.60 L893.49 388.60 L894.07 388.60 L894.64 388.60 L895.21 388.60 L895.79 388.60 L896.36 388.60 L896.94 388.60 L897.51 388.60 L898.08 388.60 L898.66 388.60 L899.23 388.60 L899.81 388.60 L900.38 388.60 L900.95 388.60 L901.53 388.60 L902.10 388.60 L902.67 388.60 L903.25 388.60 L903.82 388.60 L904.40 388.60 L904.97 388.60 L905.54 388.60 L906.12 388.60 L906.69 388.60 L907.26 388.60 L907.84 388.60 L908.41 388.60 L908.99 388.60 L909.56 388.60 L910.13 388.60 L910.71 388.60 L911.28 388.60 L911.86 388.60 L912.43 388.60 L913.00 388.60 L913.58 388.60 L914.15 388.60 L914.72 388.60 L915.30 388.60 L915.87 388.60 L916.45 388.60 L917.02 388.60 L917.59 388.60 L918.17 388.60 L918.74 388.60 L919.31 388.60 L919.89 388.60 L920.46 388.60 L921.04 388.60 L921.61 388.60 L922.18 388.60 L922.76 388.60 L923.33 388.60 L923.90 388.60 L924.48 388.60 L925.05 388.60 L925.63 388.60 L926.20 388.60 L926.77 388.60 L927.35 388.60 L927.92 388.60 L928.50 388.60 L929.07 388.60 L929.64 388.60 L930.22 388.60 L930.79 388.60 L931.36 388.60 L931.94 388.60 L932.51 388.60 L933.09 388.60 L933.66 388.60 L934.23 388.60 L934.81 388.60 L935.38 388.60 L935.95 388.60 L936.53 388.60 L937.10 388.60 L937.68 388.60 L938.25 388.60 L938.82 388.60 L939.40 388.60 L939.97 388.60 L940.54 388.60 L941.12 388.60 L941.69 388.60 L942.27 388.60 L942.84 388.60 L943.41 388.60 L943.99 388.60 L944.56 388.60 L945.14 388.60 L945.71 388.60 L946.28 388.60 L946.86 388.60 L947.43 388.60 L948.00 388.60 L948.58 388.60 L949.15 388.60 L949.73 388.60 L950.30 388.60 L950.87 388.60 L951.45 388.60 L952.02 388.60 L952.59 388.60 L953.17 388.60 L953.74 388.60 L954.32 388.60 L954.89 388.60 L955.46 388.60 L956.04 388.60 L956.61 388.60 L957.19 388.60 L957.76 388.60 L958.33 388.60 L958.91 388.60 L959.48 388.60 L960.05 388.60 L960.63 388.60 L961.20 388.60 L961.78 388.60 L962.35 388.60 L962.92 388.60 L963.50 388.60 L964.07 388.60 L964.64 388.60 L965.22 388.60 L965.79 388.60 L966.37 388.60 L966.94 388.60 L967.51 388.60 L968.09 388.60 L968.66 388.60 L969.23 388.60 L969.81 388.60 L970.38 388.60 L970.96 388.60 L971.53 388.60 L972.10 388.60 L972.68 388.60 L973.25 388.60 L973.83 388.60 L974.40 388.60 L974.97 388.60 L975.55 388.60 L976.12 388.60 L976.69 388.60 L977.27 388.60 L977.84 388.60 L978.42 388.60 L978.99 388.60 L979.56 388.60 L980.14 388.60 L980.71 388.60 L981.28 388.60 L981.86 388.60 L982.43 388.60 L983.01 388.60 L983.58 388.60" fill="none" stroke="#800000" stroke-width="5.45" stroke-linejoin="round" stroke-linecap="round"/>
<path d="M639.30 155.10 L639.87 154.06 L640.45 153.03 L641.02 152.00 L641.60 150.98 L642.17 149.97 L642.74 148.96 L643.32 147.96 L643.89 146.97 L644.46 145.99 L645.04 145.01 L645.61 144.04 L646.19 143.08 L646.76 142.12 L647.33 141.17 L647.91 140.23 L648.48 139.30 L649.05 138.37 L649.63 137.45 L650.20 136.54 L650.78 135.64 L651.35 134.74 L651.92 133.85 L652.50 132.97 L653.07 132.09 L653.64 131.22 L654.22 130.36 L654.79 129.50 L655.37 128.66 L655.94 127.82 L656.51 126.98 L657.09 126.16 L657.66 125.34 L658.24 124.53 L658.81 123.72 L659.38 122.93 L659.96 122.14 L660.53 121.35 L661.10 120.58 L661.68 119.81 L662.25 119.05 L662.83 118.30 L663.40 117.55 L663.97 116.81 L664.55 116.08 L665.12 115.35 L665.69 114.64 L666.27 113.93 L666.84 113.22 L667.42 112.53 L667.99 111.84 L668.56 111.16 L669.14 110.48 L669.71 109.82 L670.29 109.16 L670.86 108.51 L671.43 107.86 L672.01 107.22 L672.58 106.59 L673.15 105.97 L673.73 105.35 L674.30 104.74 L674.88 104.14 L675.45 103.55 L676.02 102.96 L676.60 102.38 L677.17 101.81 L677.74 101.24 L678.32 100.69 L678.89 100.14 L679.47 99.59 L680.04 99.06 L680.61 98.53 L681.19 98.01 L681.76 97.49 L682.33 96.99 L682.91 96.49 L683.48 95.99 L684.06 95.51 L684.63 95.03 L685.20 94.56 L685.78 94.10 L686.35 93.64 L686.93 93.19 L687.50 92.75 L688.07 92.32 L688.65 91.89 L689.22 91.47 L689.79 91.06 L690.37 90.65 L690.94 90.26 L691.52 89.87 L692.09 89.48 L692.66 89.11 L693.24 88.74 L693.81 88.38 L694.38 88.02 L694.96 87.68 L695.53 87.34 L696.11 87.01 L696.68 86.68 L697.25 86.37 L697.83 86.06 L698.40 85.75 L698.98 85.46 L699.55 85.17 L700.12 84.89 L700.70 84.62 L701.27 84.35 L701.84 84.09 L702.42 83.84 L702.99 83.60 L703.57 83.36 L704.14 83.13 L704.71 82.91 L705.29 82.70 L705.86 82.49 L706.43 82.29 L707.01 82.10 L707.58 81.91 L708.16 81.73 L708.73 81.56 L709.30 81.40 L709.88 81.24 L710.45 81.09 L711.02 80.94 L711.60 80.80 L712.17 80.66 L712.75 80.54 L713.32 80.41 L713.89 80.30 L714.47 80.19 L715.04 80.08 L715.62 79.98 L716.19 79.88 L716.76 79.79 L717.34 79.71 L717.91 79.63 L718.48 79.55 L719.06 79.48 L719.63 79.42 L720.21 79.36 L720.78 79.30 L721.35 79.25 L721.93 79.20 L722.50 79.15 L723.07 79.11 L723.65 79.07 L724.22 79.04 L724.80 79.01 L725.37 78.98 L725.94 78.96 L726.52 78.94 L727.09 78.93 L727.67 78.91 L728.24 78.90 L728.81 78.89 L729.39 78.89 L729.96 78.88 L730.53 78.88 L731.11 78.88 L731.68 78.89 L732.26 78.89 L732.83 78.90 L733.40 78.91 L733.98 78.92 L734.55 78.94 L735.12 78.95 L735.70 78.97 L736.27 78.98 L736.85 79.00 L737.42 79.02 L737.99 79.04 L738.57 79.06 L739.14 79.09 L739.71 79.11 L740.29 79.13 L740.86 79.16 L741.44 79.18 L742.01 79.20 L742.58 79.23 L743.16 79.25 L743.73 79.28 L744.31 79.30 L744.88 79.33 L745.45 79.35 L746.03 79.38 L746.60 79.40 L747.17 79.43 L747.75 79.45 L748.32 79.48 L748.90 79.50 L749.47 79.53 L750.04 79.56 L750.62 79.58 L751.19 79.61 L751.76 79.63 L752.34 79.66 L752.91 79.69 L753.49 79.71 L754.06 79.74 L754.63 79.77 L755.21 79.80 L755.78 79.82 L756.36 79.85 L756.93 79.88 L757.50 79.91 L758.08 79.93 L758.65 79.96 L759.22 79.99 L759.80 80.02 L760.37 80.05 L760.95 80.08 L761.52 80.10 L762.09 80.13 L762.67 80.16 L763.24 80.19 L763.81 80.22 L764.39 80.25 L764.96 80.28 L765.54 80.31 L766.11 80.34 L766.68 80.37 L767.26 80.40 L767.83 80.43 L768.40 80.46 L768.98 80.49 L769.55 80.52 L770.13 80.55 L770.70 80.58 L771.27 80.61 L771.85 80.64 L772.42 80.67 L773.00 80.70 L773.57 80.73 L774.14 80.77 L774.72 80.80 L775.29 80.83 L775.86 80.86 L776.44 80.89 L777.01 80.92 L777.59 80.96 L778.16 80.99 L778.73 81.02 L779.31 81.05 L779.88 81.08 L780.45 81.12 L781.03 81.15 L781.60 81.18 L782.18 81.21 L782.75 81.25 L783.32 81.28 L783.90 81.31 L784.47 81.35 L785.05 81.38 L785.62 81.41 L786.19 81.45 L786.77 81.48 L787.34 81.51 L787.91 81.55 L788.49 81.58 L789.06 81.62 L789.64 81.65 L790.21 81.68 L790.78 81.72 L791.36 81.75 L791.93 81.79 L792.50 81.82 L793.08 81.86 L793.65 81.89 L794.23 81.92 L794.80 81.96 L795.37 81.99 L795.95 82.03 L796.52 82.06 L797.10 82.10 L797.67 82.13 L798.24 82.17 L798.82 82.21 L799.39 82.24 L799.96 82.28 L800.54 82.31 L801.11 82.35 L801.69 82.38 L802.26 82.42 L802.83 82.46 L803.41 82.49 L803.98 82.53 L804.55 82.56 L805.13 82.60 L805.70 82.64 L806.28 82.67 L806.85 82.71 L807.42 82.75 L808.00 82.78 L808.57 82.82 L809.14 82.86 L809.72 82.89 L810.29 82.93 L810.87 82.97 L811.44 83.00 L812.01 83.04 L812.59 83.08 L813.16 83.11 L813.74 83.15 L814.31 83.19 L814.88 83.23 L815.46 83.26 L816.03 83.30 L816.60 83.34 L817.18 83.38 L817.75 83.41 L818.33 83.45 L818.90 83.49 L819.47 83.53 L820.05 83.57 L820.62 83.60 L821.19 83.64 L821.77 83.68 L822.34 83.72 L822.92 83.76 L823.49 83.79 L824.06 83.83 L824.64 83.87 L825.21 83.91 L825.78 83.95 L826.36 83.99 L826.93 84.02 L827.51 84.06 L828.08 84.10 L828.65 84.14 L829.23 84.18 L829.80 84.22 L830.38 84.26 L830.95 84.30 L831.52 84.33 L832.10 84.37 L832.67 84.41 L833.24 84.45 L833.82 84.49 L834.39 84.53 L834.97 84.57 L835.54 84.61 L836.11 84.65 L836.69 84.68 L837.26 84.72 L837.83 84.76 L838.41 84.80 L838.98 84.84 L839.56 84.88 L840.13 84.92 L840.70 84.96 L841.28 85.00 L841.85 85.04 L842.43 85.08 L843.00 85.12 L843.57 85.16 L844.15 85.20 L844.72 85.24 L845.29 85.28 L845.87 85.32 L846.44 85.36 L847.02 85.39 L847.59 85.43 L848.16 85.47 L848.74 85.51 L849.31 85.55 L849.88 85.59 L850.46 85.63 L851.03 85.67 L851.61 85.71 L852.18 85.75 L852.75 85.79 L853.33 85.83 L853.90 85.87 L854.47 85.91 L855.05 85.95 L855.62 85.99 L856.20 86.03 L856.77 86.07 L857.34 86.11 L857.92 86.15 L858.49 86.19 L859.07 86.23 L859.64 86.27 L860.21 86.31 L860.79 86.35 L861.36 86.39 L861.93 86.43 L862.51 86.47 L863.08 86.51 L863.66 86.55 L864.23 86.59 L864.80 86.63 L865.38 86.67 L865.95 86.71 L866.52 86.75 L867.10 86.79 L867.67 86.83 L868.25 86.87 L868.82 86.91 L869.39 86.95 L869.97 86.99 L870.54 87.03 L871.12 87.07 L871.69 87.11 L872.26 87.15 L872.84 87.19 L873.41 87.23 L873.98 87.27 L874.56 87.31 L875.13 87.35 L875.71 87.39 L876.28 87.43 L876.85 87.47 L877.43 87.51 L878.00 87.55 L878.57 87.59 L879.15 87.63 L879.72 87.67 L880.30 87.71 L880.87 87.75 L881.44 87.79 L882.02 87.83 L882.59 87.87 L883.16 87.90 L883.74 87.94 L884.31 87.98 L884.89 88.02 L885.46 88.06 L886.03 88.10 L886.61 88.14 L887.18 88.18 L887.76 88.22 L888.33 88.26 L888.90 88.30 L889.48 88.34 L890.05 88.38 L890.62 88.42 L891.20 88.46 L891.77 88.50 L892.35 88.53 L892.92 88.57 L893.49 88.61 L894.07 88.65 L894.64 88.69 L895.21 88.73 L895.79 88.77 L896.36 88.81 L896.94 88.85 L897.51 88.88 L898.08 88.92 L898.66 88.96 L899.23 89.00 L899.81 89.04 L900.38 89.08 L900.95 89.12 L901.53 89.15 L902.10 89.19 L902.67 89.23 L903.25 89.27 L903.82 89.31 L904.40 89.35 L904.97 89.38 L905.54 89.42 L906.12 89.46 L906.69 89.50 L907.26 89.54 L907.84 89.57 L908.41 89.61 L908.99 89.65 L909.56 89.69 L910.13 89.73 L910.71 89.76 L911.28 89.80 L911.86 89.84 L912.43 89.88 L913.00 89.91 L913.58 89.95 L914.15 89.99 L914.72 90.02 L915.30 90.06 L915.87 90.10 L916.45 90.14 L917.02 90.17 L917.59 90.21 L918.17 90.25 L918.74 90.28 L919.31 90.32 L919.89 90.36 L920.46 90.39 L921.04 90.43 L921.61 90.47 L922.18 90.50 L922.76 90.54 L923.33 90.57 L923.90 90.61 L924.48 90.65 L925.05 90.68 L925.63 90.72 L926.20 90.75 L926.77 90.79 L927.35 90.83 L927.92 90.86 L928.50 90.90 L929.07 90.93 L929.64 90.97 L930.22 91.00 L930.79 91.04 L931.36 91.07 L931.94 91.11 L932.51 91.14 L933.09 91.18 L933.66 91.21 L934.23 91.25 L934.81 91.28 L935.38 91.32 L935.95 91.35 L936.53 91.38 L937.10 91.42 L937.68 91.45 L938.25 91.49 L938.82 91.52 L939.40 91.55 L939.97 91.59 L940.54 91.62 L941.12 91.66 L941.69 91.69 L942.27 91.72 L942.84 91.76 L943.41 91.79 L943.99 91.82 L944.56 91.85 L945.14 91.89 L945.71 91.92 L946.28 91.95 L946.86 91.99 L947.43 92.02 L948.00 92.05 L948.58 92.08 L949.15 92.11 L949.73 92.15 L950.30 92.18 L950.87 92.21 L951.45 92.24 L952.02 92.27 L952.59 92.31 L953.17 92.34 L953.74 92.37 L954.32 92.40 L954.89 92.43 L955.46 92.46 L956.04 92.49 L956.61 92.52 L957.19 92.55 L957.76 92.58 L958.33 92.61 L958.91 92.64 L959.48 92.67 L960.05 92.70 L960.63 92.73 L961.20 92.76 L961.78 92.79 L962.35 92.82 L962.92 92.85 L963.50 92.88 L964.07 92.91 L964.64 92.94 L965.22 92.97 L965.79 93.00 L966.37 93.03 L966.94 93.06 L967.51 93.08 L968.09 93.11 L968.66 93.14 L969.23 93.17 L969.81 93.20 L970.38 93.22 L970.96 93.25 L971.53 93.28 L972.10 93.31 L972.68 93.33 L973.25 93.36 L973.83 93.39 L974.40 93.42 L974.97 93.44 L975.55 93.47 L976.12 93.49 L976.69 93.52 L977.27 93.55 L977.84 93.57 L978.42 93.60 L978.99 93.63 L979.56 93.65 L980.14 93.68 L980.71 93.70 L981.28 93.73 L981.86 93.75 L982.43 93.78 L983.01 93.80 L983.58 93.83" fill="none" stroke="#08306b" stroke-width="5.45" stroke-linejoin="round" stroke-linecap="round"/>
</g>
<g clip-path="url(#cc)">
<path d="M639.30 883.40 L639.87 880.82 L640.45 878.27 L641.02 875.77 L641.60 873.29 L642.17 870.85 L642.74 868.45 L643.32 866.07 L643.89 863.73 L644.46 861.42 L645.04 859.13 L645.61 856.87 L646.19 854.64 L646.76 852.44 L647.33 850.25 L647.91 848.09 L648.48 845.96 L649.05 843.84 L649.63 841.74 L650.20 839.67 L650.78 837.61 L651.35 835.56 L651.92 833.53 L652.50 831.52 L653.07 829.52 L653.64 827.53 L654.22 825.55 L654.79 823.59 L655.37 821.63 L655.94 819.68 L656.51 817.73 L657.09 815.80 L657.66 813.86 L658.24 811.93 L658.81 810.00 L659.38 808.08 L659.96 806.15 L660.53 804.22 L661.10 802.30 L661.68 800.36 L662.25 798.43 L662.83 796.49 L663.40 794.54 L663.97 792.58 L664.55 790.62 L665.12 788.64 L665.69 786.66 L666.27 784.66 L666.84 782.65 L667.42 780.63 L667.99 778.59 L668.56 776.54 L669.14 774.48 L669.71 772.40 L670.29 770.32 L670.86 768.23 L671.43 766.13 L672.01 764.04 L672.58 761.94 L673.15 759.85 L673.73 757.76 L674.30 755.68 L674.88 753.61 L675.45 751.55 L676.02 749.51 L676.60 747.47 L677.17 745.45 L677.74 743.44 L678.32 741.44 L678.89 739.46 L679.47 737.48 L680.04 735.51 L680.61 733.54 L681.19 731.59 L681.76 729.64 L682.33 727.69 L682.91 725.76 L683.48 723.82 L684.06 721.89 L684.63 719.96 L685.20 718.04 L685.78 716.11 L686.35 714.19 L686.93 712.26 L687.50 710.34 L688.07 708.41 L688.65 706.49 L689.22 704.56 L689.79 702.63 L690.37 700.70 L690.94 698.77 L691.52 696.83 L692.09 694.89 L692.66 692.95 L693.24 691.00 L693.81 689.05 L694.38 687.09 L694.96 685.13 L695.53 683.17 L696.11 681.20 L696.68 679.24 L697.25 677.28 L697.83 675.34 L698.40 673.40 L698.98 671.49 L699.55 669.58 L700.12 667.71 L700.70 665.85 L701.27 664.03 L701.84 662.23 L702.42 660.47 L702.99 658.75 L703.57 657.07 L704.14 655.43 L704.71 653.83 L705.29 652.29 L705.86 650.80 L706.43 649.36 L707.01 647.98 L707.58 646.65 L708.16 645.37 L708.73 644.13 L709.30 642.95 L709.88 641.81 L710.45 640.72 L711.02 639.68 L711.60 638.67 L712.17 637.71 L712.75 636.79 L713.32 635.91 L713.89 635.06 L714.47 634.26 L715.04 633.49 L715.62 632.75 L716.19 632.05 L716.76 631.38 L717.34 630.74 L717.91 630.12 L718.48 629.54 L719.06 628.99 L719.63 628.46 L720.21 627.96 L720.78 627.48 L721.35 627.02 L721.93 626.59 L722.50 626.18 L723.07 625.80 L723.65 625.43 L724.22 625.09 L724.80 624.76 L725.37 624.46 L725.94 624.18 L726.52 623.91 L727.09 623.66 L727.67 623.43 L728.24 623.22 L728.81 623.02 L729.39 622.84 L729.96 622.67 L730.53 622.52 L731.11 622.38 L731.68 622.25 L732.26 622.14 L732.83 622.04 L733.40 621.95 L733.98 621.87 L734.55 621.80 L735.12 621.74 L735.70 621.69 L736.27 621.64 L736.85 621.61 L737.42 621.58 L737.99 621.56 L738.57 621.54 L739.14 621.53 L739.71 621.52 L740.29 621.52 L740.86 621.52 L741.44 621.52 L742.01 621.53 L742.58 621.53 L743.16 621.54 L743.73 621.55 L744.31 621.56 L744.88 621.57 L745.45 621.58 L746.03 621.60 L746.60 621.61 L747.17 621.62 L747.75 621.64 L748.32 621.66 L748.90 621.68 L749.47 621.69 L750.04 621.71 L750.62 621.73 L751.19 621.76 L751.76 621.78 L752.34 621.80 L752.91 621.83 L753.49 621.85 L754.06 621.88 L754.63 621.90 L755.21 621.93 L755.78 621.96 L756.36 621.99 L756.93 622.02 L757.50 622.05 L758.08 622.08 L758.65 622.12 L759.22 622.15 L759.80 622.19 L760.37 622.22 L760.95 622.26 L761.52 622.29 L762.09 622.33 L762.67 622.37 L763.24 622.41 L763.81 622.45 L764.39 622.49 L764.96 622.53 L765.54 622.57 L766.11 622.62 L766.68 622.66 L767.26 622.71 L767.83 622.75 L768.40 622.80 L768.98 622.84 L769.55 622.89 L770.13 622.94 L770.70 622.99 L771.27 623.04 L771.85 623.09 L772.42 623.14 L773.00 623.19 L773.57 623.24 L774.14 623.30 L774.72 623.35 L775.29 623.40 L775.86 623.46 L776.44 623.51 L777.01 623.57 L777.59 623.63 L778.16 623.69 L778.73 623.74 L779.31 623.80 L779.88 623.86 L780.45 623.92 L781.03 623.98 L781.60 624.05 L782.18 624.11 L782.75 624.17 L783.32 624.24 L783.90 624.30 L784.47 624.37 L785.05 624.43 L785.62 624.50 L786.19 624.56 L786.77 624.63 L787.34 624.70 L787.91 624.77 L788.49 624.84 L789.06 624.91 L789.64 624.98 L790.21 625.05 L790.78 625.12 L791.36 625.20 L791.93 625.27 L792.50 625.34 L793.08 625.42 L793.65 625.49 L794.23 625.57 L794.80 625.65 L795.37 625.72 L795.95 625.80 L796.52 625.88 L797.10 625.96 L797.67 626.04 L798.24 626.12 L798.82 626.20 L799.39 626.28 L799.96 626.36 L800.54 626.45 L801.11 626.53 L801.69 626.61 L802.26 626.70 L802.83 626.78 L803.41 626.87 L803.98 626.96 L804.55 627.04 L805.13 627.13 L805.70 627.22 L806.28 627.31 L806.85 627.40 L807.42 627.49 L808.00 627.58 L808.57 627.67 L809.14 627.76 L809.72 627.85 L810.29 627.94 L810.87 628.04 L811.44 628.13 L812.01 628.22 L812.59 628.32 L813.16 628.42 L813.74 628.51 L814.31 628.61 L814.88 628.71 L815.46 628.80 L816.03 628.90 L816.60 629.00 L817.18 629.10 L817.75 629.20 L818.33 629.30 L818.90 629.40 L819.47 629.50 L820.05 629.61 L820.62 629.71 L821.19 629.81 L821.77 629.92 L822.34 630.02 L822.92 630.13 L823.49 630.23 L824.06 630.34 L824.64 630.44 L825.21 630.55 L825.78 630.66 L826.36 630.77 L826.93 630.87 L827.51 630.98 L828.08 631.09 L828.65 631.20 L829.23 631.31 L829.80 631.43 L830.38 631.54 L830.95 631.65 L831.52 631.76 L832.10 631.88 L832.67 631.99 L833.24 632.10 L833.82 632.22 L834.39 632.33 L834.97 632.45 L835.54 632.56 L836.11 632.68 L836.69 632.80 L837.26 632.92 L837.83 633.03 L838.41 633.15 L838.98 633.27 L839.56 633.39 L840.13 633.51 L840.70 633.63 L841.28 633.75 L841.85 633.87 L842.43 633.99 L843.00 634.11 L843.57 634.24 L844.15 634.36 L844.72 634.48 L845.29 634.61 L845.87 634.73 L846.44 634.86 L847.02 634.98 L847.59 635.11 L848.16 635.23 L848.74 635.36 L849.31 635.48 L849.88 635.61 L850.46 635.74 L851.03 635.87 L851.61 635.99 L852.18 636.12 L852.75 636.25 L853.33 636.38 L853.90 636.51 L854.47 636.64 L855.05 636.77 L855.62 636.90 L856.20 637.03 L856.77 637.16 L857.34 637.30 L857.92 637.43 L858.49 637.56 L859.07 637.69 L859.64 637.83 L860.21 637.96 L860.79 638.09 L861.36 638.23 L861.93 638.36 L862.51 638.50 L863.08 638.63 L863.66 638.77 L864.23 638.90 L864.80 639.04 L865.38 639.18 L865.95 639.31 L866.52 639.45 L867.10 639.59 L867.67 639.73 L868.25 639.86 L868.82 640.00 L869.39 640.14 L869.97 640.28 L870.54 640.42 L871.12 640.56 L871.69 640.70 L872.26 640.84 L872.84 640.98 L873.41 641.12 L873.98 641.26 L874.56 641.40 L875.13 641.54 L875.71 641.69 L876.28 641.83 L876.85 641.97 L877.43 642.11 L878.00 642.26 L878.57 642.40 L879.15 642.54 L879.72 642.69 L880.30 642.83 L880.87 642.97 L881.44 643.12 L882.02 643.26 L882.59 643.41 L883.16 643.55 L883.74 643.70 L884.31 643.84 L884.89 643.99 L885.46 644.13 L886.03 644.28 L886.61 644.43 L887.18 644.57 L887.76 644.72 L888.33 644.87 L888.90 645.01 L889.48 645.16 L890.05 645.31 L890.62 645.46 L891.20 645.60 L891.77 645.75 L892.35 645.90 L892.92 646.05 L893.49 646.20 L894.07 646.35 L894.64 646.49 L895.21 646.64 L895.79 646.79 L896.36 646.94 L896.94 647.09 L897.51 647.24 L898.08 647.39 L898.66 647.54 L899.23 647.69 L899.81 647.84 L900.38 647.99 L900.95 648.14 L901.53 648.29 L902.10 648.44 L902.67 648.59 L903.25 648.74 L903.82 648.90 L904.40 649.05 L904.97 649.20 L905.54 649.35 L906.12 649.50 L906.69 649.65 L907.26 649.81 L907.84 649.96 L908.41 650.11 L908.99 650.26 L909.56 650.41 L910.13 650.57 L910.71 650.72 L911.28 650.87 L911.86 651.02 L912.43 651.18 L913.00 651.33 L913.58 651.48 L914.15 651.63 L914.72 651.79 L915.30 651.94 L915.87 652.09 L916.45 652.24 L917.02 652.40 L917.59 652.55 L918.17 652.70 L918.74 652.86 L919.31 653.01 L919.89 653.16 L920.46 653.32 L921.04 653.47 L921.61 653.62 L922.18 653.78 L922.76 653.93 L923.33 654.08 L923.90 654.24 L924.48 654.39 L925.05 654.54 L925.63 654.70 L926.20 654.85 L926.77 655.00 L927.35 655.16 L927.92 655.31 L928.50 655.47 L929.07 655.62 L929.64 655.77 L930.22 655.93 L930.79 656.08 L931.36 656.23 L931.94 656.39 L932.51 656.54 L933.09 656.69 L933.66 656.85 L934.23 657.00 L934.81 657.15 L935.38 657.30 L935.95 657.46 L936.53 657.61 L937.10 657.76 L937.68 657.92 L938.25 658.07 L938.82 658.22 L939.40 658.37 L939.97 658.53 L940.54 658.68 L941.12 658.83 L941.69 658.98 L942.27 659.14 L942.84 659.29 L943.41 659.44 L943.99 659.59 L944.56 659.75 L945.14 659.90 L945.71 660.05 L946.28 660.20 L946.86 660.35 L947.43 660.50 L948.00 660.66 L948.58 660.81 L949.15 660.96 L949.73 661.11 L950.30 661.26 L950.87 661.41 L951.45 661.56 L952.02 661.71 L952.59 661.86 L953.17 662.01 L953.74 662.16 L954.32 662.31 L954.89 662.46 L955.46 662.61 L956.04 662.76 L956.61 662.91 L957.19 663.06 L957.76 663.21 L958.33 663.36 L958.91 663.51 L959.48 663.66 L960.05 663.80 L960.63 663.95 L961.20 664.10 L961.78 664.25 L962.35 664.40 L962.92 664.54 L963.50 664.69 L964.07 664.84 L964.64 664.98 L965.22 665.13 L965.79 665.28 L966.37 665.42 L966.94 665.57 L967.51 665.72 L968.09 665.86 L968.66 666.01 L969.23 666.15 L969.81 666.30 L970.38 666.44 L970.96 666.59 L971.53 666.73 L972.10 666.88 L972.68 667.02 L973.25 667.16 L973.83 667.31 L974.40 667.45 L974.97 667.59 L975.55 667.73 L976.12 667.88 L976.69 668.02 L977.27 668.16 L977.84 668.30 L978.42 668.44 L978.99 668.58 L979.56 668.73 L980.14 668.87 L980.71 669.01 L981.28 669.15 L981.86 669.29 L982.43 669.42 L983.01 669.56 L983.58 669.70" fill="none" stroke="#ff8c00" stroke-width="5.45" stroke-linejoin="round" stroke-linecap="round"/>
<path d="M639.30 883.40 L639.87 882.51 L640.45 881.63 L641.02 880.74 L641.60 879.85 L642.17 878.96 L642.74 878.08 L643.32 877.19 L643.89 876.30 L644.46 875.42 L645.04 874.53 L645.61 873.64 L646.19 872.76 L646.76 871.87 L647.33 870.98 L647.91 870.09 L648.48 869.21 L649.05 868.32 L649.63 867.43 L650.20 866.55 L650.78 865.66 L651.35 864.77 L651.92 863.89 L652.50 863.00 L653.07 862.11 L653.64 861.22 L654.22 860.34 L654.79 859.45 L655.37 858.56 L655.94 857.68 L656.51 856.79 L657.09 855.90 L657.66 855.02 L658.24 854.13 L658.81 853.24 L659.38 852.35 L659.96 851.47 L660.53 850.58 L661.10 849.69 L661.68 848.81 L662.25 847.92 L662.83 847.03 L663.40 846.14 L663.97 845.26 L664.55 844.37 L665.12 843.48 L665.69 842.60 L666.27 841.71 L666.84 840.82 L667.42 839.94 L667.99 839.05 L668.56 838.16 L669.14 837.27 L669.71 836.39 L670.29 835.50 L670.86 834.61 L671.43 833.73 L672.01 832.84 L672.58 831.95 L673.15 831.07 L673.73 830.18 L674.30 829.29 L674.88 828.40 L675.45 827.52 L676.02 826.63 L676.60 825.74 L677.17 824.86 L677.74 823.97 L678.32 823.08 L678.89 822.19 L679.47 821.31 L680.04 820.42 L680.61 819.53 L681.19 818.65 L681.76 817.76 L682.33 816.87 L682.91 815.99 L683.48 815.10 L684.06 814.21 L684.63 813.32 L685.20 812.44 L685.78 811.55 L686.35 810.66 L686.93 809.78 L687.50 808.89 L688.07 808.00 L688.65 807.12 L689.22 806.23 L689.79 805.34 L690.37 804.45 L690.94 803.57 L691.52 802.68 L692.09 801.79 L692.66 800.91 L693.24 800.02 L693.81 799.13 L694.38 798.25 L694.96 797.36 L695.53 796.47 L696.11 795.58 L696.68 794.70 L697.25 793.81 L697.83 792.92 L698.40 792.04 L698.98 791.15 L699.55 790.26 L700.12 789.37 L700.70 788.49 L701.27 787.60 L701.84 786.71 L702.42 785.83 L702.99 784.94 L703.57 784.05 L704.14 783.17 L704.71 782.28 L705.29 781.39 L705.86 780.50 L706.43 779.62 L707.01 778.73 L707.58 777.84 L708.16 776.96 L708.73 776.07 L709.30 775.18 L709.88 774.30 L710.45 773.41 L711.02 772.52 L711.60 771.63 L712.17 770.75 L712.75 769.86 L713.32 768.97 L713.89 768.09 L714.47 767.20 L715.04 766.31 L715.62 765.42 L716.19 764.54 L716.76 763.65 L717.34 762.76 L717.91 761.88 L718.48 760.99 L719.06 760.10 L719.63 759.22 L720.21 758.33 L720.78 757.44 L721.35 756.55 L721.93 755.67 L722.50 754.78 L723.07 753.89 L723.65 753.01 L724.22 752.12 L724.80 751.23 L725.37 750.35 L725.94 749.46 L726.52 748.57 L727.09 747.68 L727.67 746.80 L728.24 745.91 L728.81 745.02 L729.39 744.14 L729.96 743.25 L730.53 742.36 L731.11 741.48 L731.68 740.59 L732.26 739.70 L732.83 738.81 L733.40 737.93 L733.98 737.04 L734.55 736.15 L735.12 735.27 L735.70 734.38 L736.27 733.49 L736.85 732.60 L737.42 731.72 L737.99 730.83 L738.57 729.94 L739.14 729.06 L739.71 728.17 L740.29 727.28 L740.86 726.40 L741.44 725.51 L742.01 724.62 L742.58 723.73 L743.16 722.85 L743.73 721.96 L744.31 721.07 L744.88 720.19 L745.45 719.30 L746.03 718.41 L746.60 717.53 L747.17 716.64 L747.75 715.75 L748.32 714.86 L748.90 713.98 L749.47 713.09 L750.04 712.20 L750.62 711.32 L751.19 710.43 L751.76 709.54 L752.34 708.65 L752.91 707.77 L753.49 706.88 L754.06 705.99 L754.63 705.11 L755.21 704.22 L755.78 703.33 L756.36 702.45 L756.93 701.56 L757.50 700.67 L758.08 699.78 L758.65 698.90 L759.22 698.01 L759.80 697.12 L760.37 696.24 L760.95 695.35 L761.52 694.46 L762.09 693.58 L762.67 692.69 L763.24 691.80 L763.81 690.91 L764.39 690.03 L764.96 689.14 L765.54 688.25 L766.11 687.37 L766.68 686.48 L767.26 685.59 L767.83 684.71 L768.40 683.82 L768.98 682.93 L769.55 682.04 L770.13 681.16 L770.70 680.27 L771.27 679.38 L771.85 678.50 L772.42 677.61 L773.00 676.72 L773.57 675.83 L774.14 674.95 L774.72 674.06 L775.29 673.17 L775.86 672.29 L776.44 671.40 L777.01 670.51 L777.59 669.63 L778.16 668.74 L778.73 667.85 L779.31 666.96 L779.88 666.08 L780.45 665.19 L781.03 664.30 L781.60 663.42 L782.18 662.53 L782.75 661.64 L783.32 660.76 L783.90 659.87 L784.47 658.98 L785.05 658.09 L785.62 657.21 L786.19 656.32 L786.77 655.43 L787.34 654.55 L787.91 653.66 L788.49 652.77 L789.06 651.88 L789.64 651.00 L790.21 650.11 L790.78 649.22 L791.36 648.34 L791.93 647.45 L792.50 646.56 L793.08 645.68 L793.65 644.79 L794.23 643.90 L794.80 643.01 L795.37 642.13 L795.95 641.24 L796.52 640.35 L797.10 639.47 L797.67 638.58 L798.24 637.69 L798.82 636.81 L799.39 635.92 L799.96 635.03 L800.54 634.14 L801.11 633.26 L801.69 632.37 L802.26 631.48 L802.83 630.60 L803.41 629.71 L803.98 628.82 L804.55 627.94 L805.13 627.05 L805.70 626.16 L806.28 625.27 L806.85 624.39 L807.42 623.50 L808.00 622.61 L808.57 621.73 L809.14 620.84 L809.72 619.95 L810.29 619.06 L810.87 618.18 L811.44 617.29 L812.01 616.40 L812.59 615.52 L813.16 614.63 L813.74 613.74 L814.31 612.86 L814.88 611.97 L815.46 611.08 L816.03 610.19 L816.60 609.31 L817.18 608.42 L817.75 607.53 L818.33 606.65 L818.90 605.76 L819.47 604.87 L820.05 603.99 L820.62 603.10 L821.19 602.21 L821.77 601.32 L822.34 600.44 L822.92 599.55 L823.49 598.66 L824.06 597.78 L824.64 596.89 L825.21 596.00 L825.78 595.11 L826.36 594.23 L826.93 593.34 L827.51 592.45 L828.08 591.57 L828.65 590.68 L829.23 589.79 L829.80 588.91 L830.38 588.02 L830.95 587.13 L831.52 586.24 L832.10 585.36 L832.67 584.47 L833.24 583.58 L833.82 582.70 L834.39 581.81 L834.97 580.92 L835.54 580.04 L836.11 579.15 L836.69 578.26 L837.26 577.37 L837.83 576.49 L838.41 575.60 L838.98 574.71 L839.56 573.83 L840.13 572.94 L840.70 572.05 L841.28 571.17 L841.85 570.28 L842.43 569.39 L843.00 568.50 L843.57 567.62 L844.15 566.73 L844.72 565.84 L845.29 564.96 L845.87 564.07 L846.44 563.18 L847.02 562.29 L847.59 561.41 L848.16 560.52 L848.74 559.63 L849.31 558.75 L849.88 557.86 L850.46 556.97 L851.03 556.09 L851.61 555.20 L852.18 554.31 L852.75 553.42 L853.33 552.54 L853.90 551.65 L854.47 550.76 L855.05 549.88 L855.62 548.99 L856.20 548.10 L856.77 547.22 L857.34 546.33 L857.92 545.44 L858.49 544.55 L859.07 543.67 L859.64 542.78 L860.21 541.89 L860.79 541.01 L861.36 540.12 L861.93 539.23 L862.51 538.34 L863.08 537.46 L863.66 536.57 L864.23 535.68 L864.80 534.80 L865.38 533.91 L865.95 533.02 L866.52 532.14 L867.10 531.25 L867.67 530.36 L868.25 529.47 L868.82 528.59 L869.39 527.70 L869.97 526.81 L870.54 525.93 L871.12 525.04 L871.69 524.15 L872.26 523.27 L872.84 522.38 L873.41 521.49 L873.98 520.60 L874.56 519.72 L875.13 518.83 L875.71 517.94 L876.28 517.06 L876.85 516.17 L877.43 515.28 L878.00 514.40 L878.57 513.51 L879.15 512.62 L879.72 511.73 L880.30 510.85 L880.87 509.96 L881.44 509.07 L882.02 508.19 L882.59 507.30 L883.16 506.41 L883.74 505.52 L884.31 504.64 L884.89 503.75 L885.46 502.86 L886.03 501.98 L886.61 501.09 L887.18 500.20 L887.76 499.32 L888.33 498.43 L888.90 497.54 L889.48 496.65 L890.05 495.77 L890.62 494.88 L891.20 493.99 L891.77 493.11 L892.35 492.22 L892.92 491.33 L893.49 490.45 L894.07 489.56 L894.64 488.67 L895.21 487.78 L895.79 486.90 L896.36 486.01 L896.94 485.12 L897.51 484.24 L898.08 483.35 L898.66 482.46 L899.23 481.57 L899.81 480.69 L900.38 479.80 L900.95 478.91 L901.53 478.03 L902.10 477.14 L902.67 476.25 L903.25 475.37 L903.82 474.48 L904.40 473.59 L904.97 472.70 L905.54 471.82 L906.12 470.93 L906.69 470.04 L907.26 469.16 L907.84 468.27 L908.41 467.38 L908.99 466.50 L909.56 465.61 L910.13 464.72 L910.71 463.83 L911.28 462.95 L911.86 462.06 L912.43 461.17 L913.00 460.29 L913.58 459.40 L914.15 458.51 L914.72 457.63 L915.30 456.74 L915.87 455.85 L916.45 454.96 L917.02 454.08 L917.59 453.19 L918.17 452.30 L918.74 451.42 L919.31 450.53 L919.89 449.64 L920.46 448.75 L921.04 447.87 L921.61 446.98 L922.18 446.09 L922.76 445.21 L923.33 444.32 L923.90 443.43 L924.48 442.55 L925.05 441.66 L925.63 440.77 L926.20 439.88 L926.77 439.00 L927.35 438.11 L927.92 437.22 L928.50 436.34 L929.07 435.45 L929.64 434.56 L930.22 433.68 L930.79 432.79 L931.36 431.90 L931.94 431.01 L932.51 430.13 L933.09 429.24 L933.66 428.35 L934.23 427.47 L934.81 426.58 L935.38 425.69 L935.95 424.80 L936.53 423.92 L937.10 423.03 L937.68 422.14 L938.25 421.26 L938.82 420.37 L939.40 419.48 L939.97 418.60 L940.54 417.71 L941.12 416.82 L941.69 415.93 L942.27 415.05 L942.84 414.16 L943.41 413.27 L943.99 412.39 L944.56 411.50 L945.14 410.61 L945.71 409.73 L946.28 408.84 L946.86 407.95 L947.43 407.06 L948.00 406.18 L948.58 405.29 L949.15 404.40 L949.73 403.52 L950.30 402.63 L950.87 401.74 L951.45 400.86 L952.02 399.97 L952.59 399.08 L953.17 398.19 L953.74 397.31 L954.32 396.42 L954.89 395.53 L955.46 394.65 L956.04 393.76 L956.61 392.87 L957.19 391.98 L957.76 391.10 L958.33 390.21 L958.91 389.32 L959.48 388.44 L960.05 387.55 L960.63 386.66 L961.20 385.78 L961.78 384.89 L962.35 384.00 L962.92 383.11 L963.50 382.23 L964.07 381.34 L964.64 380.45 L965.22 379.57 L965.79 378.68 L966.37 377.79 L966.94 376.91 L967.51 376.02 L968.09 375.13 L968.66 374.24 L969.23 373.36 L969.81 372.47 L970.38 371.58 L970.96 370.70 L971.53 369.81 L972.10 368.92 L972.68 368.03 L973.25 367.15 L973.83 366.26 L974.40 365.37 L974.97 364.49 L975.55 363.60 L976.12 362.71 L976.69 361.83 L977.27 360.94 L977.84 360.05 L978.42 359.16 L978.99 358.28 L979.56 357.39 L980.14 356.50 L980.71 355.62 L981.28 354.73 L981.86 353.84 L982.43 352.96 L983.01 352.07 L983.58 351.18" fill="none" stroke="#000000" stroke-width="2.90" stroke-linejoin="round" stroke-linecap="butt" stroke-dasharray="2.90 4.78"/>
</g>
<line x1="175.48" y1="883.40" x2="175.48" y2="875.60" stroke="#000" stroke-width="2.15"/>
<line x1="204.15" y1="883.40" x2="204.15" y2="875.60" stroke="#000" stroke-width="2.15"/>
<line x1="232.83" y1="883.40" x2="232.83" y2="875.60" stroke="#000" stroke-width="2.15"/>
<line x1="261.50" y1="883.40" x2="261.50" y2="875.60" stroke="#000" stroke-width="2.15"/>
<line x1="290.18" y1="883.40" x2="290.18" y2="875.60" stroke="#000" stroke-width="2.15"/>
<line x1="318.85" y1="883.40" x2="318.85" y2="875.60" stroke="#000" stroke-width="2.15"/>
<line x1="347.53" y1="883.40" x2="347.53" y2="875.60" stroke="#000" stroke-width="2.15"/>
<line x1="376.20" y1="883.40" x2="376.20" y2="875.60" stroke="#000" stroke-width="2.15"/>
<line x1="404.88" y1="883.40" x2="404.88" y2="875.60" stroke="#000" stroke-width="2.15"/>
<line x1="433.55" y1="883.40" x2="433.55" y2="875.60" stroke="#000" stroke-width="2.15"/>
<line x1="462.23" y1="883.40" x2="462.23" y2="875.60" stroke="#000" stroke-width="2.15"/>
<line x1="146.80" y1="796.00" x2="154.60" y2="796.00" stroke="#000" stroke-width="2.15"/>
<line x1="146.80" y1="700.92" x2="154.60" y2="700.92" stroke="#000" stroke-width="2.15"/>
<line x1="146.80" y1="605.85" x2="154.60" y2="605.85" stroke="#000" stroke-width="2.15"/>
<line x1="146.80" y1="510.77" x2="154.60" y2="510.77" stroke="#000" stroke-width="2.15"/>
<line x1="146.80" y1="415.70" x2="154.60" y2="415.70" stroke="#000" stroke-width="2.15"/>
<line x1="146.80" y1="320.62" x2="154.60" y2="320.62" stroke="#000" stroke-width="2.15"/>
<line x1="146.80" y1="225.55" x2="154.60" y2="225.55" stroke="#000" stroke-width="2.15"/>
<line x1="146.80" y1="130.47" x2="154.60" y2="130.47" stroke="#000" stroke-width="2.15"/>
<line x1="146.80" y1="35.40" x2="154.60" y2="35.40" stroke="#000" stroke-width="2.15"/>
<rect x="146.80" y="0.90" width="344.60" height="882.50" fill="none" stroke="#000" stroke-width="2.70"/>
<line x1="667.53" y1="393.40" x2="667.53" y2="385.60" stroke="#000" stroke-width="2.15"/>
<line x1="696.16" y1="393.40" x2="696.16" y2="385.60" stroke="#000" stroke-width="2.15"/>
<line x1="724.79" y1="393.40" x2="724.79" y2="385.60" stroke="#000" stroke-width="2.15"/>
<line x1="753.42" y1="393.40" x2="753.42" y2="385.60" stroke="#000" stroke-width="2.15"/>
<line x1="782.05" y1="393.40" x2="782.05" y2="385.60" stroke="#000" stroke-width="2.15"/>
<line x1="810.68" y1="393.40" x2="810.68" y2="385.60" stroke="#000" stroke-width="2.15"/>
<line x1="839.31" y1="393.40" x2="839.31" y2="385.60" stroke="#000" stroke-width="2.15"/>
<line x1="867.94" y1="393.40" x2="867.94" y2="385.60" stroke="#000" stroke-width="2.15"/>
<line x1="896.57" y1="393.40" x2="896.57" y2="385.60" stroke="#000" stroke-width="2.15"/>
<line x1="925.20" y1="393.40" x2="925.20" y2="385.60" stroke="#000" stroke-width="2.15"/>
<line x1="953.83" y1="393.40" x2="953.83" y2="385.60" stroke="#000" stroke-width="2.15"/>
<line x1="639.30" y1="388.60" x2="647.10" y2="388.60" stroke="#000" stroke-width="2.15"/>
<line x1="639.30" y1="341.90" x2="647.10" y2="341.90" stroke="#000" stroke-width="2.15"/>
<line x1="639.30" y1="295.20" x2="647.10" y2="295.20" stroke="#000" stroke-width="2.15"/>
<line x1="639.30" y1="248.50" x2="647.10" y2="248.50" stroke="#000" stroke-width="2.15"/>
<line x1="639.30" y1="201.80" x2="647.10" y2="201.80" stroke="#000" stroke-width="2.15"/>
<line x1="639.30" y1="155.10" x2="647.10" y2="155.10" stroke="#000" stroke-width="2.15"/>
<line x1="639.30" y1="108.40" x2="647.10" y2="108.40" stroke="#000" stroke-width="2.15"/>
<line x1="639.30" y1="61.70" x2="647.10" y2="61.70" stroke="#000" stroke-width="2.15"/>
<line x1="639.30" y1="15.00" x2="647.10" y2="15.00" stroke="#000" stroke-width="2.15"/>
<rect x="639.30" y="0.90" width="344.30" height="392.50" fill="none" stroke="#000" stroke-width="2.70"/>
<line x1="667.53" y1="883.40" x2="667.53" y2="875.60" stroke="#000" stroke-width="2.15"/>
<line x1="696.16" y1="883.40" x2="696.16" y2="875.60" stroke="#000" stroke-width="2.15"/>
<line x1="724.79" y1="883.40" x2="724.79" y2="875.60" stroke="#000" stroke-width="2.15"/>
<line x1="753.42" y1="883.40" x2="753.42" y2="875.60" stroke="#000" stroke-width="2.15"/>
<line x1="782.05" y1="883.40" x2="782.05" y2="875.60" stroke="#000" stroke-width="2.15"/>
<line x1="810.68" y1="883.40" x2="810.68" y2="875.60" stroke="#000" stroke-width="2.15"/>
<line x1="839.31" y1="883.40" x2="839.31" y2="875.60" stroke="#000" stroke-width="2.15"/>
<line x1="867.94" y1="883.40" x2="867.94" y2="875.60" stroke="#000" stroke-width="2.15"/>
<line x1="896.57" y1="883.40" x2="896.57" y2="875.60" stroke="#000" stroke-width="2.15"/>
<line x1="925.20" y1="883.40" x2="925.20" y2="875.60" stroke="#000" stroke-width="2.15"/>
<line x1="953.83" y1="883.40" x2="953.83" y2="875.60" stroke="#000" stroke-width="2.15"/>
<line x1="639.30" y1="883.40" x2="647.10" y2="883.40" stroke="#000" stroke-width="2.15"/>
<line x1="639.30" y1="845.33" x2="647.10" y2="845.33" stroke="#000" stroke-width="2.15"/>
<line x1="639.30" y1="807.26" x2="647.10" y2="807.26" stroke="#000" stroke-width="2.15"/>
<line x1="639.30" y1="769.19" x2="647.10" y2="769.19" stroke="#000" stroke-width="2.15"/>
<line x1="639.30" y1="731.12" x2="647.10" y2="731.12" stroke="#000" stroke-width="2.15"/>
<line x1="639.30" y1="693.05" x2="647.10" y2="693.05" stroke="#000" stroke-width="2.15"/>
<line x1="639.30" y1="654.98" x2="647.10" y2="654.98" stroke="#000" stroke-width="2.15"/>
<line x1="639.30" y1="616.91" x2="647.10" y2="616.91" stroke="#000" stroke-width="2.15"/>
<line x1="639.30" y1="578.84" x2="647.10" y2="578.84" stroke="#000" stroke-width="2.15"/>
<line x1="639.30" y1="540.77" x2="647.10" y2="540.77" stroke="#000" stroke-width="2.15"/>
<line x1="639.30" y1="502.70" x2="647.10" y2="502.70" stroke="#000" stroke-width="2.15"/>
<rect x="639.30" y="491.40" width="344.30" height="392.00" fill="none" stroke="#000" stroke-width="2.70"/>
<path d="M220.2 154.40 L282.6 154.40" fill="none" stroke="#800000" stroke-width="5.45" stroke-linejoin="round" stroke-linecap="butt" stroke-dasharray="33.984 8.496 5.310 8.496"/>
<path d="M220.2 198.00 L282.6 198.00" fill="none" stroke="#08306b" stroke-width="5.45" stroke-linejoin="round" stroke-linecap="butt" stroke-dasharray="33.984 8.496 5.310 8.496"/>
<path d="M339.8 393.85 L401.9 393.85" fill="none" stroke="#000000" stroke-width="5.45" stroke-linejoin="round" stroke-linecap="butt" stroke-dasharray="5.310 8.761"/>
<path d="M339.8 436.80 L401.9 436.80" fill="none" stroke="#08306b" stroke-width="5.45" stroke-linejoin="round" stroke-linecap="butt" stroke-dasharray="5.310 8.761"/>
<path d="M339.8 481.60 L401.9 481.60" fill="none" stroke="#800000" stroke-width="5.45" stroke-linejoin="round" stroke-linecap="butt" stroke-dasharray="5.310 8.761"/>
<path d="M336.5 683.80 L398.4 683.80" fill="none" stroke="#800000" stroke-width="5.45" stroke-linejoin="round" stroke-linecap="round"/>
<path d="M336.5 727.40 L398.4 727.40" fill="none" stroke="#08306b" stroke-width="5.45" stroke-linejoin="round" stroke-linecap="round"/>
<path d="M814.85 138.80 L877.05 138.80" fill="none" stroke="#800000" stroke-width="5.45" stroke-linejoin="round" stroke-linecap="round"/>
<path d="M814.85 185.20 L877.05 185.20" fill="none" stroke="#08306b" stroke-width="5.45" stroke-linejoin="round" stroke-linecap="round"/>
<path d="M765.65 784.4 L827.95 784.4" fill="none" stroke="#ff8c00" stroke-width="5.45" stroke-linejoin="round" stroke-linecap="round"/>
<path d="M766 827.4 L827.6 827.4" fill="none" stroke="#000000" stroke-width="2.90" stroke-linejoin="round" stroke-linecap="butt" stroke-dasharray="2.90 4.78"/>
<g opacity="0.999">
<text transform="matrix(0.3903 0.0000 0.0000 0.4407 59.400 50.811)" font-size="100" stroke="#fff" stroke-width="0.96">1700</text>
<text transform="matrix(0.3903 0.0000 0.0000 0.4407 59.400 240.961)" font-size="100" stroke="#fff" stroke-width="0.96">1695</text>
<text transform="matrix(0.3903 0.0000 0.0000 0.4407 59.400 431.111)" font-size="100" stroke="#fff" stroke-width="0.96">1690</text>
<text transform="matrix(0.3903 0.0000 0.0000 0.4407 59.400 621.261)" font-size="100" stroke="#fff" stroke-width="0.96">1685</text>
<text transform="matrix(0.3903 0.0000 0.0000 0.4407 59.400 811.411)" font-size="100" stroke="#fff" stroke-width="0.96">1680</text>
<text transform="matrix(0.4114 0.0000 0.0000 0.4407 136.514 923.211)" font-size="100" stroke="#fff" stroke-width="0.94">0</text>
<text transform="matrix(0.3975 0.0000 0.0000 0.4407 184.725 923.211)" font-size="100" stroke="#fff" stroke-width="0.96">10</text>
<text transform="matrix(0.3883 0.0000 0.0000 0.4407 241.547 923.211)" font-size="100" stroke="#fff" stroke-width="0.97">20</text>
<text transform="matrix(0.3851 0.0000 0.0000 0.4407 298.685 923.211)" font-size="100" stroke="#fff" stroke-width="0.97">30</text>
<text transform="matrix(0.3861 0.0000 0.0000 0.4407 357.117 923.211)" font-size="100" stroke="#fff" stroke-width="0.97">40</text>
<text transform="matrix(0.3905 0.0000 0.0000 0.4407 413.869 923.211)" font-size="100" stroke="#fff" stroke-width="0.96">50</text>
<text transform="matrix(0.3872 0.0000 0.0000 0.4407 471.370 923.211)" font-size="100" stroke="#fff" stroke-width="0.97">60</text>
<text transform="matrix(0.5019 0.0000 0.0000 0.4331 264.950 965.723)" font-size="100" stroke="#fff" stroke-width="0.86" font-style="italic">B</text>
<text transform="matrix(0.3627 0.0000 0.0000 0.4675 318.417 966.673)" font-size="100" stroke="#fff" stroke-width="0.97">(</text>
<text transform="matrix(0.4547 0.0000 0.0000 0.4434 331.439 966.400)" font-size="100" stroke="#fff" stroke-width="0.89">T</text>
<text transform="matrix(0.3840 0.0000 0.0000 0.4675 360.350 966.673)" font-size="100" stroke="#fff" stroke-width="0.94">)</text>
<text transform="matrix(0.4114 0.0000 0.0000 0.4407 628.614 433.211)" font-size="100" stroke="#fff" stroke-width="0.94">0</text>
<text transform="matrix(0.3975 0.0000 0.0000 0.4407 676.655 433.211)" font-size="100" stroke="#fff" stroke-width="0.96">10</text>
<text transform="matrix(0.3883 0.0000 0.0000 0.4407 733.307 433.211)" font-size="100" stroke="#fff" stroke-width="0.97">20</text>
<text transform="matrix(0.3851 0.0000 0.0000 0.4407 790.275 433.211)" font-size="100" stroke="#fff" stroke-width="0.97">30</text>
<text transform="matrix(0.3861 0.0000 0.0000 0.4407 848.537 433.211)" font-size="100" stroke="#fff" stroke-width="0.97">40</text>
<text transform="matrix(0.3905 0.0000 0.0000 0.4407 905.119 433.211)" font-size="100" stroke="#fff" stroke-width="0.96">50</text>
<text transform="matrix(0.3872 0.0000 0.0000 0.4407 962.450 433.211)" font-size="100" stroke="#fff" stroke-width="0.97">60</text>
<text transform="matrix(0.5019 0.0000 0.0000 0.4331 757.300 475.723)" font-size="100" stroke="#fff" stroke-width="0.86" font-style="italic">B</text>
<text transform="matrix(0.3627 0.0000 0.0000 0.4675 810.767 476.673)" font-size="100" stroke="#fff" stroke-width="0.97">(</text>
<text transform="matrix(0.4547 0.0000 0.0000 0.4434 823.789 476.400)" font-size="100" stroke="#fff" stroke-width="0.89">T</text>
<text transform="matrix(0.3840 0.0000 0.0000 0.4675 852.700 476.673)" font-size="100" stroke="#fff" stroke-width="0.94">)</text>
<text transform="matrix(0.4114 0.0000 0.0000 0.4407 628.614 923.211)" font-size="100" stroke="#fff" stroke-width="0.94">0</text>
<text transform="matrix(0.3975 0.0000 0.0000 0.4407 676.655 923.211)" font-size="100" stroke="#fff" stroke-width="0.96">10</text>
<text transform="matrix(0.3883 0.0000 0.0000 0.4407 733.307 923.211)" font-size="100" stroke="#fff" stroke-width="0.97">20</text>
<text transform="matrix(0.3851 0.0000 0.0000 0.4407 790.275 923.211)" font-size="100" stroke="#fff" stroke-width="0.97">30</text>
<text transform="matrix(0.3861 0.0000 0.0000 0.4407 848.537 923.211)" font-size="100" stroke="#fff" stroke-width="0.97">40</text>
<text transform="matrix(0.3905 0.0000 0.0000 0.4407 905.119 923.211)" font-size="100" stroke="#fff" stroke-width="0.96">50</text>
<text transform="matrix(0.3872 0.0000 0.0000 0.4407 962.450 923.211)" font-size="100" stroke="#fff" stroke-width="0.97">60</text>
<text transform="matrix(0.5019 0.0000 0.0000 0.4331 757.300 965.723)" font-size="100" stroke="#fff" stroke-width="0.86" font-style="italic">B</text>
<text transform="matrix(0.3627 0.0000 0.0000 0.4675 810.767 966.673)" font-size="100" stroke="#fff" stroke-width="0.97">(</text>
<text transform="matrix(0.4547 0.0000 0.0000 0.4434 823.789 966.400)" font-size="100" stroke="#fff" stroke-width="0.89">T</text>
<text transform="matrix(0.3840 0.0000 0.0000 0.4675 852.700 966.673)" font-size="100" stroke="#fff" stroke-width="0.94">)</text>
<text transform="matrix(0.4069 0.0000 0.0000 0.4407 609.729 404.011)" font-size="100" stroke="#fff" stroke-width="0.94">0</text>
<text transform="matrix(0.4219 0.0000 0.0000 0.4510 609.681 311.300)" font-size="100" stroke="#fff" stroke-width="0.92">2</text>
<text transform="matrix(0.3797 0.0000 0.0000 0.4510 610.407 217.900)" font-size="100" stroke="#fff" stroke-width="0.97">4</text>
<text transform="matrix(0.3928 0.0000 0.0000 0.4407 609.772 123.811)" font-size="100" stroke="#fff" stroke-width="0.96">6</text>
<text transform="matrix(0.4069 0.0000 0.0000 0.4407 609.729 30.411)" font-size="100" stroke="#fff" stroke-width="0.94">8</text>
<text transform="matrix(0.4069 0.0000 0.0000 0.4407 609.729 898.811)" font-size="100" stroke="#fff" stroke-width="0.94">0</text>
<text transform="matrix(0.4219 0.0000 0.0000 0.4510 609.681 823.360)" font-size="100" stroke="#fff" stroke-width="0.92">2</text>
<text transform="matrix(0.3797 0.0000 0.0000 0.4510 610.407 747.220)" font-size="100" stroke="#fff" stroke-width="0.97">4</text>
<text transform="matrix(0.3928 0.0000 0.0000 0.4407 609.772 670.391)" font-size="100" stroke="#fff" stroke-width="0.96">6</text>
<text transform="matrix(0.4069 0.0000 0.0000 0.4407 609.729 594.251)" font-size="100" stroke="#fff" stroke-width="0.94">8</text>
<text transform="matrix(0.3975 0.0000 0.0000 0.4407 590.195 518.111)" font-size="100" stroke="#fff" stroke-width="0.96">10</text>
<text transform="matrix(0.3627 0.0000 0.0000 0.4686 167.867 57.749)" font-size="100" stroke="#fff" stroke-width="0.97">(</text>
<text transform="matrix(0.4726 0.0000 0.0000 0.4080 180.523 56.763)" font-size="100" stroke="#fff" stroke-width="0.91">a</text>
<text transform="matrix(0.3840 0.0000 0.0000 0.4686 200.600 57.749)" font-size="100" stroke="#fff" stroke-width="0.94">)</text>
<text transform="matrix(0.3484 0.0000 0.0000 0.4654 668.511 57.520)" font-size="100" stroke="#fff" stroke-width="0.99">(</text>
<text transform="matrix(0.4352 0.0000 0.0000 0.4230 681.800 56.739)" font-size="100" stroke="#fff" stroke-width="0.93">b</text>
<text transform="matrix(0.3802 0.0000 0.0000 0.4654 703.112 57.520)" font-size="100" stroke="#fff" stroke-width="0.95">)</text>
<text transform="matrix(0.3520 0.0000 0.0000 0.4708 668.400 543.902)" font-size="100" stroke="#fff" stroke-width="0.98">(</text>
<text transform="matrix(0.4147 0.0000 0.0000 0.4080 680.704 543.562)" font-size="100" stroke="#fff" stroke-width="0.97">c</text>
<text transform="matrix(0.3840 0.0000 0.0000 0.4708 698.800 543.902)" font-size="100" stroke="#fff" stroke-width="0.94">)</text>
<text transform="matrix(0.0000 -0.4848 0.4526 0.0000 32.300 517.442)" font-size="100" stroke="#fff" stroke-width="0.85" font-style="italic">E</text>
<text transform="matrix(0.0000 -0.3556 0.4708 0.0000 32.702 472.011)" font-size="100" stroke="#fff" stroke-width="0.98">(</text>
<text transform="matrix(0.0000 -0.4107 0.4036 0.0000 32.300 458.542)" font-size="100" stroke="#fff" stroke-width="0.98">m</text>
<text transform="matrix(0.0000 -0.3994 0.4000 0.0000 32.075 426.848)" font-size="100" stroke="#fff" stroke-width="1.00">e</text>
<text transform="matrix(0.0000 -0.4090 0.4554 0.0000 32.188 409.000)" font-size="100" stroke="#fff" stroke-width="0.93">V</text>
<text transform="matrix(0.0000 -0.3633 0.4686 0.0000 32.549 379.335)" font-size="100" stroke="#fff" stroke-width="0.97">)</text>
<text transform="matrix(0.0000 -0.3840 0.4525 0.0000 582.400 283.800)" font-size="100" stroke="#fff" stroke-width="0.96">Ω</text>
<text transform="matrix(0.0000 -0.3200 0.3276 0.0000 589.200 254.300)" font-size="100" stroke="#fff" stroke-width="1.24">T</text>
<text transform="matrix(0.0000 -0.3733 0.4708 0.0000 582.802 218.167)" font-size="100" stroke="#fff" stroke-width="0.95">(</text>
<text transform="matrix(0.0000 -0.4027 0.4108 0.0000 582.800 204.429)" font-size="100" stroke="#fff" stroke-width="0.98">m</text>
<text transform="matrix(0.0000 -0.4070 0.4060 0.0000 582.566 173.272)" font-size="100" stroke="#fff" stroke-width="0.98">e</text>
<text transform="matrix(0.0000 -0.4007 0.4592 0.0000 582.883 155.400)" font-size="100" stroke="#fff" stroke-width="0.93">V</text>
<text transform="matrix(0.0000 -0.3539 0.4708 0.0000 582.802 125.506)" font-size="100" stroke="#fff" stroke-width="0.98">)</text>
<text transform="matrix(0.0000 -0.5293 0.4584 0.0000 563.200 781.854)" font-size="100" stroke="#fff" stroke-width="0.81">Δ</text>
<text transform="matrix(0.0000 -0.4880 0.4526 0.0000 563.200 746.138)" font-size="100" stroke="#fff" stroke-width="0.85" font-style="italic">E</text>
<text transform="matrix(0.0000 -0.3520 0.4719 0.0000 563.678 700.400)" font-size="100" stroke="#fff" stroke-width="0.98">(</text>
<text transform="matrix(0.0000 -0.4080 0.4108 0.0000 563.300 687.438)" font-size="100" stroke="#fff" stroke-width="0.98">m</text>
<text transform="matrix(0.0000 -0.4096 0.4100 0.0000 563.259 655.680)" font-size="100" stroke="#fff" stroke-width="0.98">e</text>
<text transform="matrix(0.0000 -0.4063 0.4584 0.0000 563.384 638.100)" font-size="100" stroke="#fff" stroke-width="0.93">V</text>
<text transform="matrix(0.0000 -0.3765 0.4719 0.0000 563.678 608.276)" font-size="100" stroke="#fff" stroke-width="0.95">)</text>
<text transform="matrix(0.3345 0.0000 0.0000 0.3408 307.277 166.167)" font-size="100" stroke="#fff" stroke-width="1.18">UP</text>
<text transform="matrix(0.3345 0.0000 0.0000 0.3438 307.277 209.863)" font-size="100" stroke="#fff" stroke-width="1.18">UP</text>
<text transform="matrix(0.3383 0.0000 0.0000 0.3058 426.743 404.800)" font-size="100" stroke="#fff" stroke-width="1.24" font-style="italic">ħ</text>
<text transform="matrix(0.2872 0.0000 0.0000 0.2643 443.102 404.687)" font-size="100" stroke="#fff" stroke-width="1.45" font-style="italic">ω</text>
<text transform="matrix(0.2493 0.0000 0.0000 0.2342 462.121 409.834)" font-size="100" stroke="#fff" stroke-width="1.66">C</text>
<text transform="matrix(0.3664 0.0000 0.0000 0.3276 428.373 448.500)" font-size="100" stroke="#fff" stroke-width="1.15" font-style="italic">E</text>
<text transform="matrix(0.2594 0.0000 0.0000 0.2347 448.995 452.600)" font-size="100" stroke="#fff" stroke-width="1.62">T</text>
<text transform="matrix(0.3664 0.0000 0.0000 0.3276 428.373 493.500)" font-size="100" stroke="#fff" stroke-width="1.15" font-style="italic">E</text>
<text transform="matrix(0.2594 0.0000 0.0000 0.2347 448.995 497.400)" font-size="100" stroke="#fff" stroke-width="1.62">T</text>
<text transform="matrix(0.3329 0.0000 0.0000 0.3322 423.080 695.100)" font-size="100" stroke="#fff" stroke-width="1.20">LP</text>
<text transform="matrix(0.3329 0.0000 0.0000 0.3352 423.080 738.900)" font-size="100" stroke="#fff" stroke-width="1.20">LP</text>
<text transform="matrix(0.3078 0.0000 0.0000 0.3349 901.157 150.100)" font-size="100" stroke="#fff" stroke-width="1.25">Ω</text>
<text transform="matrix(0.2476 0.0000 0.0000 0.2377 923.413 154.700)" font-size="100" stroke="#fff" stroke-width="1.65">T</text>
<text transform="matrix(0.3078 0.0000 0.0000 0.3334 901.157 196.500)" font-size="100" stroke="#fff" stroke-width="1.25">Ω</text>
<text transform="matrix(0.2476 0.0000 0.0000 0.2362 923.413 201.200)" font-size="100" stroke="#fff" stroke-width="1.65">T</text>
<text transform="matrix(0.3883 0.0000 0.0000 0.3408 852.586 795.800)" font-size="100" stroke="#fff" stroke-width="1.10">Δ</text>
<text transform="matrix(0.3552 0.0000 0.0000 0.3352 879.555 795.800)" font-size="100" stroke="#fff" stroke-width="1.16" font-style="italic">E</text>
<text transform="matrix(0.2397 0.0000 0.0000 0.2347 899.825 800.200)" font-size="100" stroke="#fff" stroke-width="1.69">LP</text>
<text transform="matrix(0.3883 0.0000 0.0000 0.3393 852.586 838.600)" font-size="100" stroke="#fff" stroke-width="1.10">Δ</text>
<text transform="matrix(0.3552 0.0000 0.0000 0.3322 879.555 838.600)" font-size="100" stroke="#fff" stroke-width="1.16" font-style="italic">E</text>
<text transform="matrix(0.2384 0.0000 0.0000 0.2347 899.827 843.200)" font-size="100" stroke="#fff" stroke-width="1.69">TZ</text>
</g>
<line x1="351.00" y1="164.50" x2="366.00" y2="164.50" stroke="#000" stroke-width="1.05"/><line x1="358.50" y1="157.00" x2="358.50" y2="172.00" stroke="#000" stroke-width="1.05"/>
<line x1="352.00" y1="207.80" x2="365.20" y2="207.80" stroke="#000" stroke-width="1.05"/>
<line x1="465.40" y1="451.70" x2="476.00" y2="451.70" stroke="#000" stroke-width="1.05"/>
<line x1="465.30" y1="496.40" x2="476.10" y2="496.40" stroke="#000" stroke-width="1.05"/><line x1="470.70" y1="491.00" x2="470.70" y2="501.80" stroke="#000" stroke-width="1.05"/>
<line x1="463.20" y1="693.80" x2="477.90" y2="693.80" stroke="#000" stroke-width="1.05"/><line x1="470.55" y1="686.45" x2="470.55" y2="701.15" stroke="#000" stroke-width="1.05"/>
<line x1="464.00" y1="737.50" x2="477.20" y2="737.50" stroke="#000" stroke-width="1.05"/>
<line x1="940.10" y1="153.60" x2="951.00" y2="153.60" stroke="#000" stroke-width="1.05"/><line x1="945.55" y1="148.15" x2="945.55" y2="159.05" stroke="#000" stroke-width="1.05"/>
<line x1="940.10" y1="199.70" x2="950.70" y2="199.70" stroke="#000" stroke-width="1.05"/>
</svg>
</body></html>
